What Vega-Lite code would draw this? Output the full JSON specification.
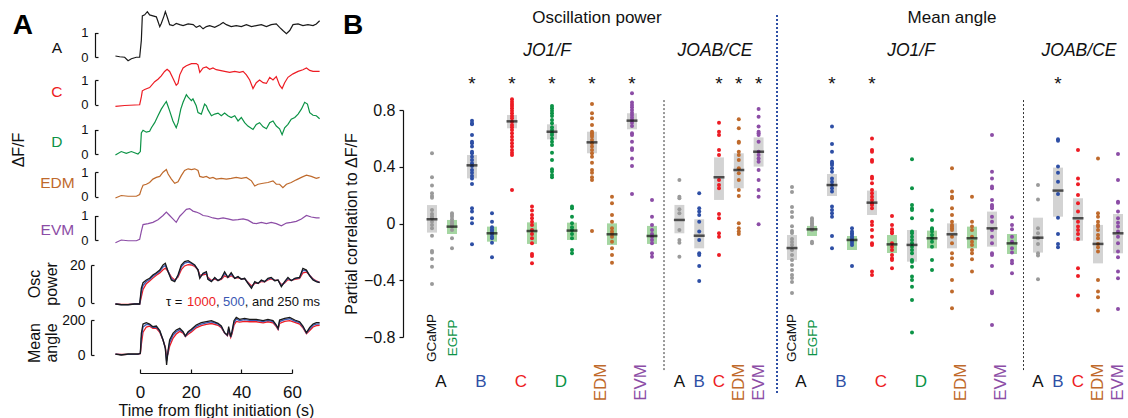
{
"$schema":"https://vega.github.io/schema/vega-lite/v6.json",
"width":1128,"height":418,"padding":0,"autosize":{"type":"none"},"background":"white",
"config":{"view":{"stroke":null},"font":"Liberation Sans","axis":{"grid":false,"labelFont":"Liberation Sans","titleFont":"Liberation Sans","domainColor":"#111","tickColor":"#111","labelColor":"#111","titleColor":"#111","titleFontWeight":"normal"}},
"datasets":{
"tr":[
{"s":"A","t":-9.7,"v":0.04},{"s":"A","t":-8,"v":0.01},{"s":"A","t":-6.05,"v":-0.01},{"s":"A","t":-4.7,"v":-0.15},{"s":"A","t":-3.4,"v":-0.07},{"s":"A","t":-1.45,"v":-0.01},{"s":"A","t":-0.13,"v":-0.01},{"s":"A","t":0.53,"v":0.68},{"s":"A","t":0.92,"v":1.68},{"s":"A","t":1.84,"v":1.72},{"s":"A","t":2.9,"v":1.85},{"s":"A","t":3.8,"v":1.72},{"s":"A","t":5.1,"v":1.68},{"s":"A","t":6.45,"v":1.64},{"s":"A","t":7.1,"v":1.45},{"s":"A","t":7.8,"v":1.24},{"s":"A","t":8.4,"v":1.37},{"s":"A","t":9.5,"v":1.68},{"s":"A","t":10,"v":1.85},{"s":"A","t":10.8,"v":1.61},{"s":"A","t":11.7,"v":1.32},{"s":"A","t":13,"v":1.28},{"s":"A","t":14.3,"v":1.37},{"s":"A","t":15.7,"v":1.32},{"s":"A","t":17,"v":1.28},{"s":"A","t":19,"v":1.35},{"s":"A","t":21,"v":1.32},{"s":"A","t":22.2,"v":1.21},{"s":"A","t":23.6,"v":1.28},{"s":"A","t":24.9,"v":1.15},{"s":"A","t":26.2,"v":1.24},{"s":"A","t":27.5,"v":1.28},{"s":"A","t":29.5,"v":1.21},{"s":"A","t":31.5,"v":1.32},{"s":"A","t":32.8,"v":1.41},{"s":"A","t":34.1,"v":1.32},{"s":"A","t":36,"v":1.24},{"s":"A","t":38,"v":1.28},{"s":"A","t":40,"v":1.24},{"s":"A","t":42,"v":1.32},{"s":"A","t":44,"v":1.24},{"s":"A","t":45.9,"v":1.28},{"s":"A","t":47.9,"v":1.32},{"s":"A","t":49.9,"v":1.24},{"s":"A","t":51.8,"v":1.32},{"s":"A","t":53.8,"v":1.35},{"s":"A","t":55.1,"v":1.21},{"s":"A","t":56.4,"v":1.08},{"s":"A","t":57.8,"v":0.95},{"s":"A","t":59.1,"v":1.08},{"s":"A","t":60.4,"v":1.32},{"s":"A","t":62.4,"v":1.35},{"s":"A","t":64.3,"v":1.28},{"s":"A","t":66.3,"v":1.32},{"s":"A","t":68.3,"v":1.28},{"s":"A","t":69.6,"v":1.35},{"s":"A","t":70.9,"v":1.48},
{"s":"C","t":-9.7,"v":-0.08},{"s":"C","t":-6.05,"v":-0.04},{"s":"C","t":-0.13,"v":-0.01},{"s":"C","t":0.53,"v":0.31},{"s":"C","t":0.92,"v":0.56},{"s":"C","t":1.84,"v":0.61},{"s":"C","t":3.8,"v":0.69},{"s":"C","t":5.8,"v":0.93},{"s":"C","t":7.1,"v":1.03},{"s":"C","t":8.4,"v":1.17},{"s":"C","t":9.7,"v":1.35},{"s":"C","t":10.7,"v":1.44},{"s":"C","t":11.7,"v":1.35},{"s":"C","t":13,"v":1.07},{"s":"C","t":14.3,"v":0.79},{"s":"C","t":15,"v":0.86},{"s":"C","t":15.7,"v":1.21},{"s":"C","t":17,"v":1.49},{"s":"C","t":18.3,"v":1.58},{"s":"C","t":20.3,"v":1.67},{"s":"C","t":22.2,"v":1.67},{"s":"C","t":22.9,"v":1.62},{"s":"C","t":23.6,"v":1.31},{"s":"C","t":24.9,"v":1.49},{"s":"C","t":26.2,"v":1.53},{"s":"C","t":27.5,"v":1.44},{"s":"C","t":28.8,"v":1.49},{"s":"C","t":30.1,"v":1.42},{"s":"C","t":31.5,"v":1.39},{"s":"C","t":33.4,"v":1.35},{"s":"C","t":35.4,"v":1.31},{"s":"C","t":37.4,"v":1.35},{"s":"C","t":39.3,"v":1.31},{"s":"C","t":40.7,"v":1.35},{"s":"C","t":42,"v":1.21},{"s":"C","t":43.3,"v":1},{"s":"C","t":44.6,"v":0.65},{"s":"C","t":45.9,"v":0.89},{"s":"C","t":47.2,"v":1},{"s":"C","t":48.6,"v":0.89},{"s":"C","t":49.9,"v":0.86},{"s":"C","t":51.2,"v":1.11},{"s":"C","t":52.5,"v":1},{"s":"C","t":53.8,"v":1.14},{"s":"C","t":55.1,"v":0.79},{"s":"C","t":56.1,"v":0.65},{"s":"C","t":57.1,"v":0.89},{"s":"C","t":58.4,"v":1.11},{"s":"C","t":60.4,"v":1.25},{"s":"C","t":62.4,"v":1.35},{"s":"C","t":64.3,"v":1.42},{"s":"C","t":65.7,"v":1.49},{"s":"C","t":67,"v":1.39},{"s":"C","t":68.3,"v":1.35},{"s":"C","t":69.6,"v":1.35},{"s":"C","t":70.9,"v":1.35},
{"s":"D","t":-9.7,"v":-0.04},{"s":"D","t":-7.4,"v":0.1},{"s":"D","t":-5.4,"v":0.03},{"s":"D","t":-3.4,"v":0.1},{"s":"D","t":-0.8,"v":0},{"s":"D","t":0.13,"v":0.1},{"s":"D","t":0.53,"v":0.86},{"s":"D","t":1.2,"v":0.97},{"s":"D","t":2.5,"v":0.89},{"s":"D","t":3.8,"v":0.93},{"s":"D","t":4.5,"v":1.07},{"s":"D","t":5.8,"v":1.28},{"s":"D","t":7.1,"v":1.56},{"s":"D","t":8.4,"v":1.83},{"s":"D","t":9.7,"v":2.04},{"s":"D","t":10.4,"v":2.14},{"s":"D","t":11.1,"v":1.94},{"s":"D","t":11.7,"v":1.76},{"s":"D","t":13,"v":1.35},{"s":"D","t":14.3,"v":1.07},{"s":"D","t":15,"v":1.28},{"s":"D","t":16.1,"v":1.83},{"s":"D","t":17,"v":2.11},{"s":"D","t":18.3,"v":2.42},{"s":"D","t":19,"v":2.32},{"s":"D","t":20.3,"v":2.18},{"s":"D","t":20.9,"v":2.25},{"s":"D","t":22.2,"v":1.97},{"s":"D","t":22.9,"v":1.69},{"s":"D","t":24.2,"v":1.63},{"s":"D","t":25.5,"v":2.04},{"s":"D","t":26.2,"v":1.97},{"s":"D","t":26.8,"v":1.81},{"s":"D","t":28.2,"v":1.56},{"s":"D","t":29.5,"v":1.63},{"s":"D","t":30.8,"v":1.67},{"s":"D","t":32.1,"v":1.56},{"s":"D","t":33.4,"v":1.67},{"s":"D","t":34.7,"v":1.56},{"s":"D","t":36,"v":1.49},{"s":"D","t":37.4,"v":1.56},{"s":"D","t":38.7,"v":1.35},{"s":"D","t":40,"v":1.49},{"s":"D","t":41.3,"v":1.28},{"s":"D","t":42.6,"v":1.14},{"s":"D","t":44.6,"v":1},{"s":"D","t":45.9,"v":1.21},{"s":"D","t":47.2,"v":1.28},{"s":"D","t":48.6,"v":1.11},{"s":"D","t":49.9,"v":1.03},{"s":"D","t":51.2,"v":1.28},{"s":"D","t":52.5,"v":1.35},{"s":"D","t":53.8,"v":1.14},{"s":"D","t":55.1,"v":1.03},{"s":"D","t":56.1,"v":0.79},{"s":"D","t":57.1,"v":1.07},{"s":"D","t":58.4,"v":1.21},{"s":"D","t":59.7,"v":1.42},{"s":"D","t":61.1,"v":1.49},{"s":"D","t":62.4,"v":1.63},{"s":"D","t":63.7,"v":1.83},{"s":"D","t":65,"v":2.11},{"s":"D","t":66.1,"v":2.04},{"s":"D","t":67,"v":1.69},{"s":"D","t":68.3,"v":1.58},{"s":"D","t":69.6,"v":1.56},{"s":"D","t":70.9,"v":1.44},
{"s":"EDM","t":-9.7,"v":-0.06},{"s":"EDM","t":-7.4,"v":0.04},{"s":"EDM","t":-4.7,"v":0.01},{"s":"EDM","t":-1.45,"v":0.01},{"s":"EDM","t":-0.13,"v":0.08},{"s":"EDM","t":0.53,"v":0.29},{"s":"EDM","t":1.2,"v":0.46},{"s":"EDM","t":2.5,"v":0.5},{"s":"EDM","t":3.8,"v":0.57},{"s":"EDM","t":5.1,"v":0.71},{"s":"EDM","t":6.45,"v":0.78},{"s":"EDM","t":7.8,"v":0.82},{"s":"EDM","t":9.1,"v":0.99},{"s":"EDM","t":10.4,"v":1.1},{"s":"EDM","t":11.1,"v":0.92},{"s":"EDM","t":12.4,"v":0.71},{"s":"EDM","t":13.7,"v":0.54},{"s":"EDM","t":15,"v":0.6},{"s":"EDM","t":16.3,"v":0.85},{"s":"EDM","t":17.6,"v":1.06},{"s":"EDM","t":19,"v":1.13},{"s":"EDM","t":20.3,"v":1.1},{"s":"EDM","t":21.6,"v":1.13},{"s":"EDM","t":22.9,"v":1.06},{"s":"EDM","t":23.6,"v":0.82},{"s":"EDM","t":24.9,"v":0.78},{"s":"EDM","t":26.2,"v":0.82},{"s":"EDM","t":27.5,"v":0.74},{"s":"EDM","t":28.8,"v":0.78},{"s":"EDM","t":30.1,"v":0.71},{"s":"EDM","t":32.1,"v":0.74},{"s":"EDM","t":34.1,"v":0.71},{"s":"EDM","t":36,"v":0.74},{"s":"EDM","t":38,"v":0.78},{"s":"EDM","t":40,"v":0.74},{"s":"EDM","t":42,"v":0.78},{"s":"EDM","t":44,"v":0.64},{"s":"EDM","t":45.3,"v":0.43},{"s":"EDM","t":46.6,"v":0.5},{"s":"EDM","t":48.6,"v":0.54},{"s":"EDM","t":50.5,"v":0.57},{"s":"EDM","t":52.5,"v":0.64},{"s":"EDM","t":53.8,"v":0.5},{"s":"EDM","t":55.1,"v":0.5},{"s":"EDM","t":56.4,"v":0.36},{"s":"EDM","t":57.8,"v":0.5},{"s":"EDM","t":59.7,"v":0.57},{"s":"EDM","t":61.7,"v":0.68},{"s":"EDM","t":63.7,"v":0.78},{"s":"EDM","t":65.7,"v":0.87},{"s":"EDM","t":67.6,"v":0.82},{"s":"EDM","t":69.6,"v":0.74},{"s":"EDM","t":70.9,"v":0.78},
{"s":"EVM","t":-9.7,"v":-0.11},{"s":"EVM","t":-7.4,"v":0},{"s":"EVM","t":-4.7,"v":-0.03},{"s":"EVM","t":-1.45,"v":-0.03},{"s":"EVM","t":-0.13,"v":0.03},{"s":"EVM","t":0.53,"v":0.35},{"s":"EVM","t":1.2,"v":0.63},{"s":"EVM","t":3.2,"v":0.67},{"s":"EVM","t":5.1,"v":0.72},{"s":"EVM","t":7.1,"v":0.83},{"s":"EVM","t":9.1,"v":1},{"s":"EVM","t":10.4,"v":1.14},{"s":"EVM","t":11.7,"v":1},{"s":"EVM","t":13,"v":0.86},{"s":"EVM","t":14.3,"v":0.72},{"s":"EVM","t":15.7,"v":0.97},{"s":"EVM","t":17,"v":1.11},{"s":"EVM","t":18.3,"v":1.25},{"s":"EVM","t":19.6,"v":1.28},{"s":"EVM","t":20.9,"v":1.18},{"s":"EVM","t":22.2,"v":1.14},{"s":"EVM","t":23.6,"v":1.08},{"s":"EVM","t":24.9,"v":1},{"s":"EVM","t":26.8,"v":0.97},{"s":"EVM","t":28.8,"v":0.9},{"s":"EVM","t":30.8,"v":0.86},{"s":"EVM","t":32.8,"v":0.9},{"s":"EVM","t":34.7,"v":0.86},{"s":"EVM","t":36.7,"v":0.81},{"s":"EVM","t":38.7,"v":0.83},{"s":"EVM","t":40.7,"v":0.86},{"s":"EVM","t":42.6,"v":0.81},{"s":"EVM","t":44.6,"v":0.69},{"s":"EVM","t":45.9,"v":0.67},{"s":"EVM","t":47.9,"v":0.72},{"s":"EVM","t":49.9,"v":0.67},{"s":"EVM","t":51.8,"v":0.72},{"s":"EVM","t":53.8,"v":0.67},{"s":"EVM","t":55.8,"v":0.58},{"s":"EVM","t":57.8,"v":0.69},{"s":"EVM","t":59.7,"v":0.72},{"s":"EVM","t":61.7,"v":0.76},{"s":"EVM","t":63.7,"v":0.86},{"s":"EVM","t":65.7,"v":1},{"s":"EVM","t":67.6,"v":0.94},{"s":"EVM","t":69.6,"v":0.9},{"s":"EVM","t":70.9,"v":0.9},
{"s":"o1","t":-9.7,"v":-0.8},{"s":"o1","t":-7.4,"v":-1},{"s":"o1","t":-4.7,"v":-1},{"s":"o1","t":-2.1,"v":-0.8},{"s":"o1","t":-0.13,"v":-0.8},{"s":"o1","t":0.53,"v":3},{"s":"o1","t":1.2,"v":7},{"s":"o1","t":2.5,"v":10},{"s":"o1","t":3.8,"v":11.5},{"s":"o1","t":5.1,"v":13},{"s":"o1","t":6.45,"v":14.5},{"s":"o1","t":7.8,"v":15.8},{"s":"o1","t":9.1,"v":17.5},{"s":"o1","t":10,"v":18.3},{"s":"o1","t":11.1,"v":16.5},{"s":"o1","t":12.4,"v":13.5},{"s":"o1","t":13.7,"v":12},{"s":"o1","t":15,"v":13.5},{"s":"o1","t":16.3,"v":17.5},{"s":"o1","t":17.6,"v":19.5},{"s":"o1","t":19,"v":20.2},{"s":"o1","t":20.3,"v":20},{"s":"o1","t":21.6,"v":19.2},{"s":"o1","t":22.9,"v":17.5},{"s":"o1","t":23.6,"v":14.5},{"s":"o1","t":24.9,"v":14.8},{"s":"o1","t":26.2,"v":15.2},{"s":"o1","t":26.8,"v":13.5},{"s":"o1","t":28.2,"v":11.8},{"s":"o1","t":29.5,"v":12.5},{"s":"o1","t":30.8,"v":11.8},{"s":"o1","t":32.1,"v":12.3},{"s":"o1","t":33.4,"v":14.2},{"s":"o1","t":34.7,"v":13.3},{"s":"o1","t":36,"v":14.3},{"s":"o1","t":37.4,"v":13},{"s":"o1","t":38.7,"v":13.3},{"s":"o1","t":40,"v":12.6},{"s":"o1","t":41.3,"v":12.6},{"s":"o1","t":42.6,"v":10.8},{"s":"o1","t":44,"v":8.8},{"s":"o1","t":45.3,"v":10.2},{"s":"o1","t":46.6,"v":10.2},{"s":"o1","t":47.9,"v":11.2},{"s":"o1","t":49.2,"v":11},{"s":"o1","t":50.5,"v":12},{"s":"o1","t":51.8,"v":12.6},{"s":"o1","t":53.2,"v":11.8},{"s":"o1","t":54.5,"v":11.8},{"s":"o1","t":55.8,"v":9.5},{"s":"o1","t":57.1,"v":10.4},{"s":"o1","t":58.4,"v":12.2},{"s":"o1","t":59.7,"v":11.8},{"s":"o1","t":61.1,"v":12.3},{"s":"o1","t":63,"v":12.8},{"s":"o1","t":64.3,"v":15.8},{"s":"o1","t":65.7,"v":16.2},{"s":"o1","t":67,"v":14.5},{"s":"o1","t":68.3,"v":12.6},{"s":"o1","t":69.6,"v":11.5},{"s":"o1","t":70.9,"v":10.8},
{"s":"o5","t":-9.7,"v":-0.8},{"s":"o5","t":-7.4,"v":-1.1},{"s":"o5","t":-4.7,"v":-1.1},{"s":"o5","t":-2.1,"v":-0.8},{"s":"o5","t":-0.13,"v":-0.8},{"s":"o5","t":0.53,"v":5.5},{"s":"o5","t":1.2,"v":9},{"s":"o5","t":2.5,"v":11.2},{"s":"o5","t":3.8,"v":12.3},{"s":"o5","t":5.1,"v":14},{"s":"o5","t":6.45,"v":15.3},{"s":"o5","t":7.8,"v":16.7},{"s":"o5","t":9.1,"v":19},{"s":"o5","t":10,"v":19.8},{"s":"o5","t":11.1,"v":16.6},{"s":"o5","t":12.4,"v":12.6},{"s":"o5","t":13.7,"v":11.5},{"s":"o5","t":15,"v":14.2},{"s":"o5","t":16.3,"v":19},{"s":"o5","t":17.6,"v":21},{"s":"o5","t":19,"v":21.5},{"s":"o5","t":20.3,"v":20.8},{"s":"o5","t":21.6,"v":19.7},{"s":"o5","t":22.9,"v":17.5},{"s":"o5","t":23.6,"v":13.6},{"s":"o5","t":24.9,"v":15.3},{"s":"o5","t":26.2,"v":15.9},{"s":"o5","t":26.8,"v":12.9},{"s":"o5","t":28.2,"v":11.4},{"s":"o5","t":29.5,"v":13},{"s":"o5","t":30.8,"v":11.7},{"s":"o5","t":32.1,"v":12.7},{"s":"o5","t":33.4,"v":15.5},{"s":"o5","t":34.7,"v":13.4},{"s":"o5","t":36,"v":15.2},{"s":"o5","t":37.4,"v":13},{"s":"o5","t":38.7,"v":13.6},{"s":"o5","t":40,"v":12.5},{"s":"o5","t":41.3,"v":12.8},{"s":"o5","t":42.6,"v":10.5},{"s":"o5","t":44,"v":8.1},{"s":"o5","t":45.3,"v":10.7},{"s":"o5","t":46.6,"v":10.2},{"s":"o5","t":47.9,"v":11.7},{"s":"o5","t":49.2,"v":11.1},{"s":"o5","t":50.5,"v":12.5},{"s":"o5","t":51.8,"v":13.1},{"s":"o5","t":53.2,"v":11.7},{"s":"o5","t":54.5,"v":11.9},{"s":"o5","t":55.8,"v":8.9},{"s":"o5","t":57.1,"v":10.8},{"s":"o5","t":58.4,"v":12.9},{"s":"o5","t":59.7,"v":11.7},{"s":"o5","t":61.1,"v":12.7},{"s":"o5","t":63,"v":13.2},{"s":"o5","t":64.3,"v":17.2},{"s":"o5","t":65.7,"v":16.9},{"s":"o5","t":67,"v":14.4},{"s":"o5","t":68.3,"v":12.3},{"s":"o5","t":69.6,"v":11.3},{"s":"o5","t":70.9,"v":10.7},
{"s":"o2","t":-9.7,"v":-0.8},{"s":"o2","t":-7.4,"v":-1.2},{"s":"o2","t":-4.7,"v":-1.2},{"s":"o2","t":-2.1,"v":-0.8},{"s":"o2","t":-0.13,"v":-0.8},{"s":"o2","t":0.53,"v":7.6},{"s":"o2","t":1.2,"v":10.6},{"s":"o2","t":2.5,"v":12},{"s":"o2","t":3.8,"v":12.9},{"s":"o2","t":5.1,"v":14.7},{"s":"o2","t":6.45,"v":15.9},{"s":"o2","t":7.8,"v":17.3},{"s":"o2","t":9.1,"v":20},{"s":"o2","t":10,"v":20.9},{"s":"o2","t":11.1,"v":16.4},{"s":"o2","t":12.4,"v":12},{"s":"o2","t":13.7,"v":11.1},{"s":"o2","t":15,"v":14.7},{"s":"o2","t":16.3,"v":20},{"s":"o2","t":17.6,"v":21.8},{"s":"o2","t":19,"v":22.3},{"s":"o2","t":20.3,"v":21.2},{"s":"o2","t":21.6,"v":20},{"s":"o2","t":22.9,"v":17.3},{"s":"o2","t":23.6,"v":12.9},{"s":"o2","t":24.9,"v":15.6},{"s":"o2","t":26.2,"v":16.4},{"s":"o2","t":26.8,"v":12.4},{"s":"o2","t":28.2,"v":11.1},{"s":"o2","t":29.5,"v":13.4},{"s":"o2","t":30.8,"v":11.6},{"s":"o2","t":32.1,"v":12.9},{"s":"o2","t":33.4,"v":16.4},{"s":"o2","t":34.7,"v":13.4},{"s":"o2","t":36,"v":15.9},{"s":"o2","t":37.4,"v":12.9},{"s":"o2","t":38.7,"v":13.8},{"s":"o2","t":40,"v":12.4},{"s":"o2","t":41.3,"v":12.9},{"s":"o2","t":42.6,"v":10.2},{"s":"o2","t":44,"v":7.6},{"s":"o2","t":45.3,"v":11.1},{"s":"o2","t":46.6,"v":10.2},{"s":"o2","t":47.9,"v":12},{"s":"o2","t":49.2,"v":11.1},{"s":"o2","t":50.5,"v":12.9},{"s":"o2","t":51.8,"v":13.4},{"s":"o2","t":53.2,"v":11.6},{"s":"o2","t":54.5,"v":12},{"s":"o2","t":55.8,"v":8.4},{"s":"o2","t":57.1,"v":11.1},{"s":"o2","t":58.4,"v":13.4},{"s":"o2","t":59.7,"v":11.6},{"s":"o2","t":61.1,"v":12.9},{"s":"o2","t":63,"v":13.4},{"s":"o2","t":64.3,"v":18.2},{"s":"o2","t":65.7,"v":17.3},{"s":"o2","t":67,"v":14.2},{"s":"o2","t":68.3,"v":12},{"s":"o2","t":69.6,"v":11.1},{"s":"o2","t":70.9,"v":10.6},
{"s":"a1","t":-9.7,"v":5},{"s":"a1","t":-7.4,"v":3},{"s":"a1","t":-4.7,"v":4},{"s":"a1","t":-0.8,"v":5},{"s":"a1","t":0.13,"v":8},{"s":"a1","t":0.53,"v":60},{"s":"a1","t":1.2,"v":130},{"s":"a1","t":2.5,"v":160},{"s":"a1","t":3.8,"v":165},{"s":"a1","t":5.1,"v":152},{"s":"a1","t":6.45,"v":152},{"s":"a1","t":7.8,"v":130},{"s":"a1","t":9.1,"v":85},{"s":"a1","t":10,"v":45},{"s":"a1","t":10.5,"v":-10},{"s":"a1","t":11.1,"v":10},{"s":"a1","t":11.7,"v":50},{"s":"a1","t":13,"v":95},{"s":"a1","t":14.3,"v":120},{"s":"a1","t":15.7,"v":135},{"s":"a1","t":17,"v":125},{"s":"a1","t":17.9,"v":105},{"s":"a1","t":19,"v":118},{"s":"a1","t":20.3,"v":132},{"s":"a1","t":22.2,"v":155},{"s":"a1","t":24.2,"v":168},{"s":"a1","t":26.2,"v":175},{"s":"a1","t":28.2,"v":180},{"s":"a1","t":30.8,"v":170},{"s":"a1","t":32.1,"v":156},{"s":"a1","t":33.4,"v":125},{"s":"a1","t":34.5,"v":110},{"s":"a1","t":35,"v":140},{"s":"a1","t":35.8,"v":100},{"s":"a1","t":36.3,"v":120},{"s":"a1","t":37.1,"v":170},{"s":"a1","t":38,"v":192},{"s":"a1","t":39.3,"v":188},{"s":"a1","t":41.3,"v":192},{"s":"a1","t":43.3,"v":190},{"s":"a1","t":45.9,"v":190},{"s":"a1","t":48.6,"v":184},{"s":"a1","t":50.5,"v":190},{"s":"a1","t":52.5,"v":184},{"s":"a1","t":53.8,"v":162},{"s":"a1","t":54.5,"v":145},{"s":"a1","t":55.1,"v":180},{"s":"a1","t":57.1,"v":192},{"s":"a1","t":59.1,"v":196},{"s":"a1","t":61.1,"v":186},{"s":"a1","t":63,"v":177},{"s":"a1","t":64.3,"v":156},{"s":"a1","t":65.7,"v":122},{"s":"a1","t":67,"v":140},{"s":"a1","t":68.3,"v":160},{"s":"a1","t":69.6,"v":168},{"s":"a1","t":70.9,"v":170},
{"s":"a5","t":-9.7,"v":5},{"s":"a5","t":-7.4,"v":2},{"s":"a5","t":-4.7,"v":4},{"s":"a5","t":-0.8,"v":5},{"s":"a5","t":0.13,"v":9},{"s":"a5","t":0.53,"v":95},{"s":"a5","t":1.2,"v":160},{"s":"a5","t":2.5,"v":175},{"s":"a5","t":3.8,"v":172},{"s":"a5","t":5.1,"v":158},{"s":"a5","t":6.45,"v":160},{"s":"a5","t":7.8,"v":136},{"s":"a5","t":9.1,"v":86},{"s":"a5","t":10,"v":40},{"s":"a5","t":10.5,"v":-35},{"s":"a5","t":11.1,"v":20},{"s":"a5","t":11.7,"v":70},{"s":"a5","t":13,"v":112},{"s":"a5","t":14.3,"v":133},{"s":"a5","t":15.7,"v":145},{"s":"a5","t":17,"v":130},{"s":"a5","t":17.9,"v":107},{"s":"a5","t":19,"v":127},{"s":"a5","t":20.3,"v":140},{"s":"a5","t":22.2,"v":164},{"s":"a5","t":24.2,"v":177},{"s":"a5","t":26.2,"v":184},{"s":"a5","t":28.2,"v":189},{"s":"a5","t":30.8,"v":176},{"s":"a5","t":32.1,"v":161},{"s":"a5","t":33.4,"v":126},{"s":"a5","t":34.5,"v":112},{"s":"a5","t":35,"v":152},{"s":"a5","t":35.8,"v":102},{"s":"a5","t":36.3,"v":128},{"s":"a5","t":37.1,"v":184},{"s":"a5","t":38,"v":205},{"s":"a5","t":39.3,"v":197},{"s":"a5","t":41.3,"v":202},{"s":"a5","t":43.3,"v":198},{"s":"a5","t":45.9,"v":198},{"s":"a5","t":48.6,"v":191},{"s":"a5","t":50.5,"v":198},{"s":"a5","t":52.5,"v":191},{"s":"a5","t":53.8,"v":167},{"s":"a5","t":54.5,"v":149},{"s":"a5","t":55.1,"v":191},{"s":"a5","t":57.1,"v":202},{"s":"a5","t":59.1,"v":207},{"s":"a5","t":61.1,"v":194},{"s":"a5","t":63,"v":185},{"s":"a5","t":64.3,"v":161},{"s":"a5","t":65.7,"v":125},{"s":"a5","t":67,"v":150},{"s":"a5","t":68.3,"v":170},{"s":"a5","t":69.6,"v":177},{"s":"a5","t":70.9,"v":178},
{"s":"a2","t":-9.7,"v":5.6},{"s":"a2","t":-7.4,"v":0},{"s":"a2","t":-4.7,"v":5.6},{"s":"a2","t":-0.8,"v":5.6},{"s":"a2","t":0.13,"v":9.4},{"s":"a2","t":0.53,"v":123.7},{"s":"a2","t":1.2,"v":177},{"s":"a2","t":2.5,"v":184.7},{"s":"a2","t":3.8,"v":177},{"s":"a2","t":5.1,"v":161.8},{"s":"a2","t":6.45,"v":165.6},{"s":"a2","t":7.8,"v":139},{"s":"a2","t":9.1,"v":85.6},{"s":"a2","t":10,"v":38},{"s":"a2","t":10.5,"v":-57.3},{"s":"a2","t":11.1,"v":28.5},{"s":"a2","t":11.7,"v":85.6},{"s":"a2","t":13,"v":123.7},{"s":"a2","t":14.3,"v":142.8},{"s":"a2","t":15.7,"v":152.3},{"s":"a2","t":17,"v":133.2},{"s":"a2","t":17.9,"v":108.5},{"s":"a2","t":19,"v":133.2},{"s":"a2","t":20.3,"v":146.6},{"s":"a2","t":22.2,"v":171.3},{"s":"a2","t":24.2,"v":184.7},{"s":"a2","t":26.2,"v":190.4},{"s":"a2","t":28.2,"v":196.1},{"s":"a2","t":30.8,"v":180.9},{"s":"a2","t":32.1,"v":165.6},{"s":"a2","t":33.4,"v":127.5},{"s":"a2","t":34.5,"v":114.2},{"s":"a2","t":35,"v":161.8},{"s":"a2","t":35.8,"v":104.7},{"s":"a2","t":36.3,"v":133.2},{"s":"a2","t":37.1,"v":196.1},{"s":"a2","t":38,"v":215.1},{"s":"a2","t":39.3,"v":203.7},{"s":"a2","t":41.3,"v":209.4},{"s":"a2","t":43.3,"v":203.7},{"s":"a2","t":45.9,"v":203.7},{"s":"a2","t":48.6,"v":196.1},{"s":"a2","t":50.5,"v":203.7},{"s":"a2","t":52.5,"v":196.1},{"s":"a2","t":53.8,"v":171.3},{"s":"a2","t":54.5,"v":152.3},{"s":"a2","t":55.1,"v":199.9},{"s":"a2","t":57.1,"v":209.4},{"s":"a2","t":59.1,"v":215.1},{"s":"a2","t":61.1,"v":199.9},{"s":"a2","t":63,"v":190.4},{"s":"a2","t":64.3,"v":165.6},{"s":"a2","t":65.7,"v":127.5},{"s":"a2","t":67,"v":158},{"s":"a2","t":68.3,"v":177},{"s":"a2","t":69.6,"v":184.7},{"s":"a2","t":70.9,"v":184.7}
],
"summ":[
{"p":1,"c":"A-G","n":"A","g":"G","m":0.03,"lo":-0.064,"hi":0.13,"sig":false},
{"p":1,"c":"A-E","n":"A","g":"E","m":-0.022,"lo":-0.074,"hi":0.025,"sig":false},
{"p":1,"c":"B-G","n":"B","g":"G","m":0.41,"lo":0.318,"hi":0.483,"sig":true},
{"p":1,"c":"B-E","n":"B","g":"E","m":-0.069,"lo":-0.128,"hi":-0.022,"sig":false},
{"p":1,"c":"C-G","n":"C","g":"G","m":0.72,"lo":0.671,"hi":0.765,"sig":true},
{"p":1,"c":"C-E","n":"C","g":"E","m":-0.053,"lo":-0.144,"hi":0.008,"sig":false},
{"p":1,"c":"D-G","n":"D","g":"G","m":0.647,"lo":0.593,"hi":0.699,"sig":true},
{"p":1,"c":"D-E","n":"D","g":"E","m":-0.05,"lo":-0.116,"hi":0.006,"sig":false},
{"p":1,"c":"EDM-G","n":"EDM","g":"G","m":0.572,"lo":0.495,"hi":0.647,"sig":true},
{"p":1,"c":"EDM-E","n":"EDM","g":"E","m":-0.076,"lo":-0.151,"hi":0.001,"sig":false},
{"p":1,"c":"EVM-G","n":"EVM","g":"G","m":0.725,"lo":0.664,"hi":0.777,"sig":true},
{"p":1,"c":"EVM-E","n":"EVM","g":"E","m":-0.088,"lo":-0.144,"hi":-0.017,"sig":false},
{"p":2,"c":"A","n":"A","g":"G","m":0.025,"lo":-0.069,"hi":0.131,"sig":false},
{"p":2,"c":"B","n":"B","g":"G","m":-0.086,"lo":-0.175,"hi":0.03,"sig":false},
{"p":2,"c":"C","n":"C","g":"G","m":0.326,"lo":0.166,"hi":0.466,"sig":true},
{"p":2,"c":"EDM","n":"EDM","g":"G","m":0.377,"lo":0.248,"hi":0.495,"sig":true},
{"p":2,"c":"EVM","n":"EVM","g":"G","m":0.506,"lo":0.401,"hi":0.607,"sig":true},
{"p":3,"c":"A-G","n":"A","g":"G","m":-0.173,"lo":-0.257,"hi":-0.081,"sig":false},
{"p":3,"c":"A-E","n":"A","g":"E","m":-0.041,"lo":-0.088,"hi":-0.017,"sig":false},
{"p":3,"c":"B-G","n":"B","g":"G","m":0.271,"lo":0.194,"hi":0.349,"sig":true},
{"p":3,"c":"B-E","n":"B","g":"E","m":-0.116,"lo":-0.187,"hi":-0.088,"sig":false},
{"p":3,"c":"C-G","n":"C","g":"G","m":0.147,"lo":0.06,"hi":0.232,"sig":true},
{"p":3,"c":"C-E","n":"C","g":"E","m":-0.147,"lo":-0.208,"hi":-0.081,"sig":false},
{"p":3,"c":"D-G","n":"D","g":"G","m":-0.151,"lo":-0.269,"hi":-0.046,"sig":false},
{"p":3,"c":"D-E","n":"D","g":"E","m":-0.104,"lo":-0.175,"hi":-0.05,"sig":false},
{"p":3,"c":"EDM-G","n":"EDM","g":"G","m":-0.076,"lo":-0.175,"hi":0.001,"sig":false},
{"p":3,"c":"EDM-E","n":"EDM","g":"E","m":-0.104,"lo":-0.175,"hi":-0.022,"sig":false},
{"p":3,"c":"EVM-G","n":"EVM","g":"G","m":-0.034,"lo":-0.163,"hi":0.084,"sig":false},
{"p":3,"c":"EVM-E","n":"EVM","g":"E","m":-0.14,"lo":-0.215,"hi":-0.074,"sig":false},
{"p":4,"c":"A","n":"A","g":"G","m":-0.1,"lo":-0.205,"hi":0.041,"sig":false},
{"p":4,"c":"B","n":"B","g":"G","m":0.232,"lo":0.048,"hi":0.394,"sig":true},
{"p":4,"c":"C","n":"C","g":"G","m":0.037,"lo":-0.121,"hi":0.178,"sig":false},
{"p":4,"c":"EDM","n":"EDM","g":"G","m":-0.144,"lo":-0.281,"hi":-0.01,"sig":false},
{"p":4,"c":"EVM","n":"EVM","g":"G","m":-0.069,"lo":-0.21,"hi":0.067,"sig":false}
],
"dots":[
{"p":1,"c":"A-G","n":"A","v":0.495},{"p":1,"c":"A-G","n":"A","v":0.326},{"p":1,"c":"A-G","n":"A","v":0.267},{"p":1,"c":"A-G","n":"A","v":0.213},{"p":1,"c":"A-G","n":"A","v":0.194},{"p":1,"c":"A-G","n":"A","v":0.182},{"p":1,"c":"A-G","n":"A","v":0.095},{"p":1,"c":"A-G","n":"A","v":0.067},{"p":1,"c":"A-G","n":"A","v":0.05},{"p":1,"c":"A-G","n":"A","v":0.037},{"p":1,"c":"A-G","n":"A","v":0.013},{"p":1,"c":"A-G","n":"A","v":-0.01},{"p":1,"c":"A-G","n":"A","v":-0.034},{"p":1,"c":"A-G","n":"A","v":-0.086},{"p":1,"c":"A-G","n":"A","v":-0.194},{"p":1,"c":"A-G","n":"A","v":-0.205},{"p":1,"c":"A-G","n":"A","v":-0.25},{"p":1,"c":"A-G","n":"A","v":-0.304},{"p":1,"c":"A-G","n":"A","v":-0.426},
{"p":1,"c":"A-E","n":"A","v":0.072},{"p":1,"c":"A-E","n":"A","v":0.06},{"p":1,"c":"A-E","n":"A","v":0.048},{"p":1,"c":"A-E","n":"A","v":0.03},{"p":1,"c":"A-E","n":"A","v":0.013},{"p":1,"c":"A-E","n":"A","v":0.001},{"p":1,"c":"A-E","n":"A","v":-0.01},{"p":1,"c":"A-E","n":"A","v":-0.022},{"p":1,"c":"A-E","n":"A","v":-0.046},{"p":1,"c":"A-E","n":"A","v":-0.104},{"p":1,"c":"A-E","n":"A","v":-0.175},
{"p":1,"c":"B-G","n":"B","v":0.725},{"p":1,"c":"B-G","n":"B","v":0.706},{"p":1,"c":"B-G","n":"B","v":0.699},{"p":1,"c":"B-G","n":"B","v":0.624},{"p":1,"c":"B-G","n":"B","v":0.577},{"p":1,"c":"B-G","n":"B","v":0.565},{"p":1,"c":"B-G","n":"B","v":0.542},{"p":1,"c":"B-G","n":"B","v":0.506},{"p":1,"c":"B-G","n":"B","v":0.495},{"p":1,"c":"B-G","n":"B","v":0.471},{"p":1,"c":"B-G","n":"B","v":0.448},{"p":1,"c":"B-G","n":"B","v":0.424},{"p":1,"c":"B-G","n":"B","v":0.405},{"p":1,"c":"B-G","n":"B","v":0.377},{"p":1,"c":"B-G","n":"B","v":0.358},{"p":1,"c":"B-G","n":"B","v":0.335},{"p":1,"c":"B-G","n":"B","v":0.318},{"p":1,"c":"B-G","n":"B","v":0.279},{"p":1,"c":"B-G","n":"B","v":0.107},{"p":1,"c":"B-G","n":"B","v":0.084},{"p":1,"c":"B-G","n":"B","v":0.037},{"p":1,"c":"B-G","n":"B","v":0.001},{"p":1,"c":"B-G","n":"B","v":-0.147},
{"p":1,"c":"B-E","n":"B","v":0.072},{"p":1,"c":"B-E","n":"B","v":0.013},{"p":1,"c":"B-E","n":"B","v":-0.027},{"p":1,"c":"B-E","n":"B","v":-0.041},{"p":1,"c":"B-E","n":"B","v":-0.05},{"p":1,"c":"B-E","n":"B","v":-0.064},{"p":1,"c":"B-E","n":"B","v":-0.074},{"p":1,"c":"B-E","n":"B","v":-0.093},{"p":1,"c":"B-E","n":"B","v":-0.104},{"p":1,"c":"B-E","n":"B","v":-0.135},{"p":1,"c":"B-E","n":"B","v":-0.238},
{"p":1,"c":"C-G","n":"C","v":0.875},{"p":1,"c":"C-G","n":"C","v":0.859},{"p":1,"c":"C-G","n":"C","v":0.842},{"p":1,"c":"C-G","n":"C","v":0.828},{"p":1,"c":"C-G","n":"C","v":0.812},{"p":1,"c":"C-G","n":"C","v":0.795},{"p":1,"c":"C-G","n":"C","v":0.777},{"p":1,"c":"C-G","n":"C","v":0.758},{"p":1,"c":"C-G","n":"C","v":0.741},{"p":1,"c":"C-G","n":"C","v":0.718},{"p":1,"c":"C-G","n":"C","v":0.694},{"p":1,"c":"C-G","n":"C","v":0.678},{"p":1,"c":"C-G","n":"C","v":0.659},{"p":1,"c":"C-G","n":"C","v":0.636},{"p":1,"c":"C-G","n":"C","v":0.612},{"p":1,"c":"C-G","n":"C","v":0.589},{"p":1,"c":"C-G","n":"C","v":0.565},{"p":1,"c":"C-G","n":"C","v":0.542},{"p":1,"c":"C-G","n":"C","v":0.518},{"p":1,"c":"C-G","n":"C","v":0.499},{"p":1,"c":"C-G","n":"C","v":0.483},{"p":1,"c":"C-G","n":"C","v":0.236},
{"p":1,"c":"C-E","n":"C","v":0.119},{"p":1,"c":"C-E","n":"C","v":0.091},{"p":1,"c":"C-E","n":"C","v":0.06},{"p":1,"c":"C-E","n":"C","v":0.037},{"p":1,"c":"C-E","n":"C","v":0.013},{"p":1,"c":"C-E","n":"C","v":-0.01},{"p":1,"c":"C-E","n":"C","v":-0.046},{"p":1,"c":"C-E","n":"C","v":-0.074},{"p":1,"c":"C-E","n":"C","v":-0.104},{"p":1,"c":"C-E","n":"C","v":-0.14},{"p":1,"c":"C-E","n":"C","v":-0.215},{"p":1,"c":"C-E","n":"C","v":-0.229},{"p":1,"c":"C-E","n":"C","v":-0.281},
{"p":1,"c":"D-G","n":"D","v":0.828},{"p":1,"c":"D-G","n":"D","v":0.812},{"p":1,"c":"D-G","n":"D","v":0.795},{"p":1,"c":"D-G","n":"D","v":0.777},{"p":1,"c":"D-G","n":"D","v":0.758},{"p":1,"c":"D-G","n":"D","v":0.73},{"p":1,"c":"D-G","n":"D","v":0.706},{"p":1,"c":"D-G","n":"D","v":0.678},{"p":1,"c":"D-G","n":"D","v":0.659},{"p":1,"c":"D-G","n":"D","v":0.64},{"p":1,"c":"D-G","n":"D","v":0.624},{"p":1,"c":"D-G","n":"D","v":0.6},{"p":1,"c":"D-G","n":"D","v":0.577},{"p":1,"c":"D-G","n":"D","v":0.553},{"p":1,"c":"D-G","n":"D","v":0.499},{"p":1,"c":"D-G","n":"D","v":0.448},{"p":1,"c":"D-G","n":"D","v":0.382},{"p":1,"c":"D-G","n":"D","v":0.366},{"p":1,"c":"D-G","n":"D","v":0.342},{"p":1,"c":"D-G","n":"D","v":0.326},
{"p":1,"c":"D-E","n":"D","v":0.119},{"p":1,"c":"D-E","n":"D","v":0.107},{"p":1,"c":"D-E","n":"D","v":0.048},{"p":1,"c":"D-E","n":"D","v":0.001},{"p":1,"c":"D-E","n":"D","v":-0.027},{"p":1,"c":"D-E","n":"D","v":-0.046},{"p":1,"c":"D-E","n":"D","v":-0.074},{"p":1,"c":"D-E","n":"D","v":-0.104},{"p":1,"c":"D-E","n":"D","v":-0.187},{"p":1,"c":"D-E","n":"D","v":-0.21},
{"p":1,"c":"EDM-G","n":"EDM","v":0.842},{"p":1,"c":"EDM-G","n":"EDM","v":0.777},{"p":1,"c":"EDM-G","n":"EDM","v":0.741},{"p":1,"c":"EDM-G","n":"EDM","v":0.694},{"p":1,"c":"EDM-G","n":"EDM","v":0.647},{"p":1,"c":"EDM-G","n":"EDM","v":0.636},{"p":1,"c":"EDM-G","n":"EDM","v":0.624},{"p":1,"c":"EDM-G","n":"EDM","v":0.612},{"p":1,"c":"EDM-G","n":"EDM","v":0.589},{"p":1,"c":"EDM-G","n":"EDM","v":0.565},{"p":1,"c":"EDM-G","n":"EDM","v":0.542},{"p":1,"c":"EDM-G","n":"EDM","v":0.518},{"p":1,"c":"EDM-G","n":"EDM","v":0.495},{"p":1,"c":"EDM-G","n":"EDM","v":0.471},{"p":1,"c":"EDM-G","n":"EDM","v":0.429},{"p":1,"c":"EDM-G","n":"EDM","v":0.377},{"p":1,"c":"EDM-G","n":"EDM","v":0.358},{"p":1,"c":"EDM-G","n":"EDM","v":0.326},{"p":1,"c":"EDM-G","n":"EDM","v":0.307},{"p":1,"c":"EDM-G","n":"EDM","v":-0.053},
{"p":1,"c":"EDM-E","n":"EDM","v":0.189},{"p":1,"c":"EDM-E","n":"EDM","v":0.142},{"p":1,"c":"EDM-E","n":"EDM","v":0.06},{"p":1,"c":"EDM-E","n":"EDM","v":0.013},{"p":1,"c":"EDM-E","n":"EDM","v":-0.034},{"p":1,"c":"EDM-E","n":"EDM","v":-0.057},{"p":1,"c":"EDM-E","n":"EDM","v":-0.074},{"p":1,"c":"EDM-E","n":"EDM","v":-0.093},{"p":1,"c":"EDM-E","n":"EDM","v":-0.128},{"p":1,"c":"EDM-E","n":"EDM","v":-0.175},{"p":1,"c":"EDM-E","n":"EDM","v":-0.222},{"p":1,"c":"EDM-E","n":"EDM","v":-0.276},
{"p":1,"c":"EVM-G","n":"EVM","v":0.918},{"p":1,"c":"EVM-G","n":"EVM","v":0.852},{"p":1,"c":"EVM-G","n":"EVM","v":0.835},{"p":1,"c":"EVM-G","n":"EVM","v":0.819},{"p":1,"c":"EVM-G","n":"EVM","v":0.8},{"p":1,"c":"EVM-G","n":"EVM","v":0.781},{"p":1,"c":"EVM-G","n":"EVM","v":0.765},{"p":1,"c":"EVM-G","n":"EVM","v":0.748},{"p":1,"c":"EVM-G","n":"EVM","v":0.73},{"p":1,"c":"EVM-G","n":"EVM","v":0.711},{"p":1,"c":"EVM-G","n":"EVM","v":0.687},{"p":1,"c":"EVM-G","n":"EVM","v":0.636},{"p":1,"c":"EVM-G","n":"EVM","v":0.624},{"p":1,"c":"EVM-G","n":"EVM","v":0.577},{"p":1,"c":"EVM-G","n":"EVM","v":0.53},{"p":1,"c":"EVM-G","n":"EVM","v":0.518},{"p":1,"c":"EVM-G","n":"EVM","v":0.459},{"p":1,"c":"EVM-G","n":"EVM","v":0.405},{"p":1,"c":"EVM-G","n":"EVM","v":0.208},
{"p":1,"c":"EVM-E","n":"EVM","v":0.166},{"p":1,"c":"EVM-E","n":"EVM","v":0.048},{"p":1,"c":"EVM-E","n":"EVM","v":-0.01},{"p":1,"c":"EVM-E","n":"EVM","v":-0.046},{"p":1,"c":"EVM-E","n":"EVM","v":-0.074},{"p":1,"c":"EVM-E","n":"EVM","v":-0.093},{"p":1,"c":"EVM-E","n":"EVM","v":-0.116},{"p":1,"c":"EVM-E","n":"EVM","v":-0.14},{"p":1,"c":"EVM-E","n":"EVM","v":-0.21},{"p":1,"c":"EVM-E","n":"EVM","v":-0.234},
{"p":2,"c":"A","n":"A","v":0.307},{"p":2,"c":"A","n":"A","v":0.189},{"p":2,"c":"A","n":"A","v":0.178},{"p":2,"c":"A","n":"A","v":0.1},{"p":2,"c":"A","n":"A","v":0.072},{"p":2,"c":"A","n":"A","v":-0.046},{"p":2,"c":"A","n":"A","v":-0.116},{"p":2,"c":"A","n":"A","v":-0.135},{"p":2,"c":"A","n":"A","v":-0.234},
{"p":2,"c":"B","n":"B","v":0.213},{"p":2,"c":"B","n":"B","v":0.107},{"p":2,"c":"B","n":"B","v":0.084},{"p":2,"c":"B","n":"B","v":0.06},{"p":2,"c":"B","n":"B","v":0.013},{"p":2,"c":"B","n":"B","v":-0.057},{"p":2,"c":"B","n":"B","v":-0.116},{"p":2,"c":"B","n":"B","v":-0.21},{"p":2,"c":"B","n":"B","v":-0.222},{"p":2,"c":"B","n":"B","v":-0.299},{"p":2,"c":"B","n":"B","v":-0.405},
{"p":2,"c":"C","n":"C","v":0.711},{"p":2,"c":"C","n":"C","v":0.647},{"p":2,"c":"C","n":"C","v":0.624},{"p":2,"c":"C","n":"C","v":0.518},{"p":2,"c":"C","n":"C","v":0.483},{"p":2,"c":"C","n":"C","v":0.307},{"p":2,"c":"C","n":"C","v":0.272},{"p":2,"c":"C","n":"C","v":0.248},{"p":2,"c":"C","n":"C","v":0.067},{"p":2,"c":"C","n":"C","v":0.037},{"p":2,"c":"C","n":"C","v":-0.069},{"p":2,"c":"C","n":"C","v":-0.093},{"p":2,"c":"C","n":"C","v":-0.222},
{"p":2,"c":"EDM","n":"EDM","v":0.734},{"p":2,"c":"EDM","n":"EDM","v":0.671},{"p":2,"c":"EDM","n":"EDM","v":0.577},{"p":2,"c":"EDM","n":"EDM","v":0.57},{"p":2,"c":"EDM","n":"EDM","v":0.506},{"p":2,"c":"EDM","n":"EDM","v":0.483},{"p":2,"c":"EDM","n":"EDM","v":0.448},{"p":2,"c":"EDM","n":"EDM","v":0.389},{"p":2,"c":"EDM","n":"EDM","v":0.354},{"p":2,"c":"EDM","n":"EDM","v":0.307},{"p":2,"c":"EDM","n":"EDM","v":0.236},{"p":2,"c":"EDM","n":"EDM","v":0.194},{"p":2,"c":"EDM","n":"EDM","v":0.001},{"p":2,"c":"EDM","n":"EDM","v":-0.034},{"p":2,"c":"EDM","n":"EDM","v":-0.057},{"p":2,"c":"EDM","n":"EDM","v":-0.074},
{"p":2,"c":"EVM","n":"EVM","v":0.807},{"p":2,"c":"EVM","n":"EVM","v":0.753},{"p":2,"c":"EVM","n":"EVM","v":0.683},{"p":2,"c":"EVM","n":"EVM","v":0.647},{"p":2,"c":"EVM","n":"EVM","v":0.636},{"p":2,"c":"EVM","n":"EVM","v":0.624},{"p":2,"c":"EVM","n":"EVM","v":0.577},{"p":2,"c":"EVM","n":"EVM","v":0.506},{"p":2,"c":"EVM","n":"EVM","v":0.483},{"p":2,"c":"EVM","n":"EVM","v":0.459},{"p":2,"c":"EVM","n":"EVM","v":0.436},{"p":2,"c":"EVM","n":"EVM","v":0.377},{"p":2,"c":"EVM","n":"EVM","v":0.307},{"p":2,"c":"EVM","n":"EVM","v":0.236},{"p":2,"c":"EVM","n":"EVM","v":0.189},{"p":2,"c":"EVM","n":"EVM","v":-0.006},
{"p":3,"c":"A-G","n":"A","v":0.257},{"p":3,"c":"A-G","n":"A","v":0.222},{"p":3,"c":"A-G","n":"A","v":0.116},{"p":3,"c":"A-G","n":"A","v":0.081},{"p":3,"c":"A-G","n":"A","v":0.046},{"p":3,"c":"A-G","n":"A","v":-0.02},{"p":3,"c":"A-G","n":"A","v":-0.053},{"p":3,"c":"A-G","n":"A","v":-0.067},{"p":3,"c":"A-G","n":"A","v":-0.109},{"p":3,"c":"A-G","n":"A","v":-0.13},{"p":3,"c":"A-G","n":"A","v":-0.151},{"p":3,"c":"A-G","n":"A","v":-0.187},{"p":3,"c":"A-G","n":"A","v":-0.222},{"p":3,"c":"A-G","n":"A","v":-0.257},{"p":3,"c":"A-G","n":"A","v":-0.292},{"p":3,"c":"A-G","n":"A","v":-0.328},{"p":3,"c":"A-G","n":"A","v":-0.363},{"p":3,"c":"A-G","n":"A","v":-0.384},{"p":3,"c":"A-G","n":"A","v":-0.412},{"p":3,"c":"A-G","n":"A","v":-0.49},
{"p":3,"c":"A-E","n":"A","v":0.037},{"p":3,"c":"A-E","n":"A","v":0.025},{"p":3,"c":"A-E","n":"A","v":0.013},{"p":3,"c":"A-E","n":"A","v":0.001},{"p":3,"c":"A-E","n":"A","v":-0.01},{"p":3,"c":"A-E","n":"A","v":-0.022},{"p":3,"c":"A-E","n":"A","v":-0.034},{"p":3,"c":"A-E","n":"A","v":-0.046},{"p":3,"c":"A-E","n":"A","v":-0.128},{"p":3,"c":"A-E","n":"A","v":-0.14},
{"p":3,"c":"B-G","n":"B","v":0.683},{"p":3,"c":"B-G","n":"B","v":0.56},{"p":3,"c":"B-G","n":"B","v":0.506},{"p":3,"c":"B-G","n":"B","v":0.436},{"p":3,"c":"B-G","n":"B","v":0.424},{"p":3,"c":"B-G","n":"B","v":0.412},{"p":3,"c":"B-G","n":"B","v":0.389},{"p":3,"c":"B-G","n":"B","v":0.365},{"p":3,"c":"B-G","n":"B","v":0.318},{"p":3,"c":"B-G","n":"B","v":0.295},{"p":3,"c":"B-G","n":"B","v":0.271},{"p":3,"c":"B-G","n":"B","v":0.248},{"p":3,"c":"B-G","n":"B","v":0.225},{"p":3,"c":"B-G","n":"B","v":0.119},{"p":3,"c":"B-G","n":"B","v":0.095},{"p":3,"c":"B-G","n":"B","v":0.072},{"p":3,"c":"B-G","n":"B","v":0.048},{"p":3,"c":"B-G","n":"B","v":-0.088},{"p":3,"c":"B-G","n":"B","v":-0.175},
{"p":3,"c":"B-E","n":"B","v":-0.034},{"p":3,"c":"B-E","n":"B","v":-0.057},{"p":3,"c":"B-E","n":"B","v":-0.069},{"p":3,"c":"B-E","n":"B","v":-0.08},{"p":3,"c":"B-E","n":"B","v":-0.093},{"p":3,"c":"B-E","n":"B","v":-0.1},{"p":3,"c":"B-E","n":"B","v":-0.116},{"p":3,"c":"B-E","n":"B","v":-0.12},{"p":3,"c":"B-E","n":"B","v":-0.135},{"p":3,"c":"B-E","n":"B","v":-0.151},{"p":3,"c":"B-E","n":"B","v":-0.299},
{"p":3,"c":"C-G","n":"C","v":0.6},{"p":3,"c":"C-G","n":"C","v":0.518},{"p":3,"c":"C-G","n":"C","v":0.506},{"p":3,"c":"C-G","n":"C","v":0.448},{"p":3,"c":"C-G","n":"C","v":0.436},{"p":3,"c":"C-G","n":"C","v":0.33},{"p":3,"c":"C-G","n":"C","v":0.318},{"p":3,"c":"C-G","n":"C","v":0.283},{"p":3,"c":"C-G","n":"C","v":0.236},{"p":3,"c":"C-G","n":"C","v":0.213},{"p":3,"c":"C-G","n":"C","v":0.189},{"p":3,"c":"C-G","n":"C","v":0.166},{"p":3,"c":"C-G","n":"C","v":0.142},{"p":3,"c":"C-G","n":"C","v":0.131},{"p":3,"c":"C-G","n":"C","v":0.107},{"p":3,"c":"C-G","n":"C","v":0.013},{"p":3,"c":"C-G","n":"C","v":-0.01},{"p":3,"c":"C-G","n":"C","v":-0.046},{"p":3,"c":"C-G","n":"C","v":-0.093},{"p":3,"c":"C-G","n":"C","v":-0.14},{"p":3,"c":"C-G","n":"C","v":-0.151},{"p":3,"c":"C-G","n":"C","v":-0.339},{"p":3,"c":"C-G","n":"C","v":-0.363},
{"p":3,"c":"C-E","n":"C","v":0.053},{"p":3,"c":"C-E","n":"C","v":-0.01},{"p":3,"c":"C-E","n":"C","v":-0.041},{"p":3,"c":"C-E","n":"C","v":-0.058},{"p":3,"c":"C-E","n":"C","v":-0.069},{"p":3,"c":"C-E","n":"C","v":-0.139},{"p":3,"c":"C-E","n":"C","v":-0.163},{"p":3,"c":"C-E","n":"C","v":-0.187},{"p":3,"c":"C-E","n":"C","v":-0.222},{"p":3,"c":"C-E","n":"C","v":-0.245},{"p":3,"c":"C-E","n":"C","v":-0.257},{"p":3,"c":"C-E","n":"C","v":-0.316},
{"p":3,"c":"D-G","n":"D","v":0.452},{"p":3,"c":"D-G","n":"D","v":0.248},{"p":3,"c":"D-G","n":"D","v":0.131},{"p":3,"c":"D-G","n":"D","v":0.107},{"p":3,"c":"D-G","n":"D","v":0.095},{"p":3,"c":"D-G","n":"D","v":0.037},{"p":3,"c":"D-G","n":"D","v":-0.057},{"p":3,"c":"D-G","n":"D","v":-0.069},{"p":3,"c":"D-G","n":"D","v":-0.093},{"p":3,"c":"D-G","n":"D","v":-0.116},{"p":3,"c":"D-G","n":"D","v":-0.14},{"p":3,"c":"D-G","n":"D","v":-0.163},{"p":3,"c":"D-G","n":"D","v":-0.187},{"p":3,"c":"D-G","n":"D","v":-0.21},{"p":3,"c":"D-G","n":"D","v":-0.257},{"p":3,"c":"D-G","n":"D","v":-0.269},{"p":3,"c":"D-G","n":"D","v":-0.304},{"p":3,"c":"D-G","n":"D","v":-0.374},{"p":3,"c":"D-G","n":"D","v":-0.398},{"p":3,"c":"D-G","n":"D","v":-0.445},{"p":3,"c":"D-G","n":"D","v":-0.539},{"p":3,"c":"D-G","n":"D","v":-0.769},
{"p":3,"c":"D-E","n":"D","v":0.091},{"p":3,"c":"D-E","n":"D","v":0.025},{"p":3,"c":"D-E","n":"D","v":-0.034},{"p":3,"c":"D-E","n":"D","v":-0.041},{"p":3,"c":"D-E","n":"D","v":-0.057},{"p":3,"c":"D-E","n":"D","v":-0.081},{"p":3,"c":"D-E","n":"D","v":-0.104},{"p":3,"c":"D-E","n":"D","v":-0.128},{"p":3,"c":"D-E","n":"D","v":-0.163},{"p":3,"c":"D-E","n":"D","v":-0.257},{"p":3,"c":"D-E","n":"D","v":-0.328},
{"p":3,"c":"EDM-G","n":"EDM","v":0.389},{"p":3,"c":"EDM-G","n":"EDM","v":0.225},{"p":3,"c":"EDM-G","n":"EDM","v":0.189},{"p":3,"c":"EDM-G","n":"EDM","v":0.178},{"p":3,"c":"EDM-G","n":"EDM","v":0.107},{"p":3,"c":"EDM-G","n":"EDM","v":0.06},{"p":3,"c":"EDM-G","n":"EDM","v":0.013},{"p":3,"c":"EDM-G","n":"EDM","v":-0.01},{"p":3,"c":"EDM-G","n":"EDM","v":-0.022},{"p":3,"c":"EDM-G","n":"EDM","v":-0.034},{"p":3,"c":"EDM-G","n":"EDM","v":-0.046},{"p":3,"c":"EDM-G","n":"EDM","v":-0.093},{"p":3,"c":"EDM-G","n":"EDM","v":-0.14},{"p":3,"c":"EDM-G","n":"EDM","v":-0.21},{"p":3,"c":"EDM-G","n":"EDM","v":-0.245},{"p":3,"c":"EDM-G","n":"EDM","v":-0.292},{"p":3,"c":"EDM-G","n":"EDM","v":-0.398},{"p":3,"c":"EDM-G","n":"EDM","v":-0.48},{"p":3,"c":"EDM-G","n":"EDM","v":-0.598},
{"p":3,"c":"EDM-E","n":"EDM","v":0.189},{"p":3,"c":"EDM-E","n":"EDM","v":0.013},{"p":3,"c":"EDM-E","n":"EDM","v":-0.022},{"p":3,"c":"EDM-E","n":"EDM","v":-0.046},{"p":3,"c":"EDM-E","n":"EDM","v":-0.093},{"p":3,"c":"EDM-E","n":"EDM","v":-0.128},{"p":3,"c":"EDM-E","n":"EDM","v":-0.151},{"p":3,"c":"EDM-E","n":"EDM","v":-0.187},{"p":3,"c":"EDM-E","n":"EDM","v":-0.21},{"p":3,"c":"EDM-E","n":"EDM","v":-0.252},{"p":3,"c":"EDM-E","n":"EDM","v":-0.339},
{"p":3,"c":"EVM-G","n":"EVM","v":0.624},{"p":3,"c":"EVM-G","n":"EVM","v":0.365},{"p":3,"c":"EVM-G","n":"EVM","v":0.318},{"p":3,"c":"EVM-G","n":"EVM","v":0.26},{"p":3,"c":"EVM-G","n":"EVM","v":0.248},{"p":3,"c":"EVM-G","n":"EVM","v":0.166},{"p":3,"c":"EVM-G","n":"EVM","v":0.131},{"p":3,"c":"EVM-G","n":"EVM","v":0.119},{"p":3,"c":"EVM-G","n":"EVM","v":0.107},{"p":3,"c":"EVM-G","n":"EVM","v":0.048},{"p":3,"c":"EVM-G","n":"EVM","v":0.013},{"p":3,"c":"EVM-G","n":"EVM","v":-0.046},{"p":3,"c":"EVM-G","n":"EVM","v":-0.093},{"p":3,"c":"EVM-G","n":"EVM","v":-0.14},{"p":3,"c":"EVM-G","n":"EVM","v":-0.21},{"p":3,"c":"EVM-G","n":"EVM","v":-0.222},{"p":3,"c":"EVM-G","n":"EVM","v":-0.299},{"p":3,"c":"EVM-G","n":"EVM","v":-0.48},{"p":3,"c":"EVM-G","n":"EVM","v":-0.492},{"p":3,"c":"EVM-G","n":"EVM","v":-0.715},
{"p":3,"c":"EVM-E","n":"EVM","v":0.044},{"p":3,"c":"EVM-E","n":"EVM","v":-0.01},{"p":3,"c":"EVM-E","n":"EVM","v":-0.041},{"p":3,"c":"EVM-E","n":"EVM","v":-0.093},{"p":3,"c":"EVM-E","n":"EVM","v":-0.128},{"p":3,"c":"EVM-E","n":"EVM","v":-0.175},{"p":3,"c":"EVM-E","n":"EVM","v":-0.205},{"p":3,"c":"EVM-E","n":"EVM","v":-0.262},{"p":3,"c":"EVM-E","n":"EVM","v":-0.281},{"p":3,"c":"EVM-E","n":"EVM","v":-0.351},
{"p":4,"c":"A","n":"A","v":0.271},{"p":4,"c":"A","n":"A","v":0.17},{"p":4,"c":"A","n":"A","v":-0.034},{"p":4,"c":"A","n":"A","v":-0.069},{"p":4,"c":"A","n":"A","v":-0.104},{"p":4,"c":"A","n":"A","v":-0.144},{"p":4,"c":"A","n":"A","v":-0.21},{"p":4,"c":"A","n":"A","v":-0.226},{"p":4,"c":"A","n":"A","v":-0.393},
{"p":4,"c":"B","n":"B","v":0.593},{"p":4,"c":"B","n":"B","v":0.584},{"p":4,"c":"B","n":"B","v":0.401},{"p":4,"c":"B","n":"B","v":0.358},{"p":4,"c":"B","n":"B","v":0.295},{"p":4,"c":"B","n":"B","v":0.208},{"p":4,"c":"B","n":"B","v":0.041},{"p":4,"c":"B","n":"B","v":-0.074},{"p":4,"c":"B","n":"B","v":-0.144},{"p":4,"c":"B","n":"B","v":-0.168},
{"p":4,"c":"C","n":"C","v":0.518},{"p":4,"c":"C","n":"C","v":0.318},{"p":4,"c":"C","n":"C","v":0.276},{"p":4,"c":"C","n":"C","v":0.201},{"p":4,"c":"C","n":"C","v":0.142},{"p":4,"c":"C","n":"C","v":0.084},{"p":4,"c":"C","n":"C","v":0.013},{"p":4,"c":"C","n":"C","v":-0.022},{"p":4,"c":"C","n":"C","v":-0.046},{"p":4,"c":"C","n":"C","v":-0.074},{"p":4,"c":"C","n":"C","v":-0.109},{"p":4,"c":"C","n":"C","v":-0.316},{"p":4,"c":"C","n":"C","v":-0.37},{"p":4,"c":"C","n":"C","v":-0.508},
{"p":4,"c":"EDM","n":"EDM","v":0.459},{"p":4,"c":"EDM","n":"EDM","v":0.072},{"p":4,"c":"EDM","n":"EDM","v":0.048},{"p":4,"c":"EDM","n":"EDM","v":0.013},{"p":4,"c":"EDM","n":"EDM","v":-0.01},{"p":4,"c":"EDM","n":"EDM","v":-0.022},{"p":4,"c":"EDM","n":"EDM","v":-0.046},{"p":4,"c":"EDM","n":"EDM","v":-0.081},{"p":4,"c":"EDM","n":"EDM","v":-0.104},{"p":4,"c":"EDM","n":"EDM","v":-0.144},{"p":4,"c":"EDM","n":"EDM","v":-0.168},{"p":4,"c":"EDM","n":"EDM","v":-0.198},{"p":4,"c":"EDM","n":"EDM","v":-0.398},{"p":4,"c":"EDM","n":"EDM","v":-0.48},{"p":4,"c":"EDM","n":"EDM","v":-0.52},{"p":4,"c":"EDM","n":"EDM","v":-0.614},
{"p":4,"c":"EVM","n":"EVM","v":0.49},{"p":4,"c":"EVM","n":"EVM","v":0.307},{"p":4,"c":"EVM","n":"EVM","v":0.154},{"p":4,"c":"EVM","n":"EVM","v":0.147},{"p":4,"c":"EVM","n":"EVM","v":0.084},{"p":4,"c":"EVM","n":"EVM","v":0.037},{"p":4,"c":"EVM","n":"EVM","v":0.006},{"p":4,"c":"EVM","n":"EVM","v":-0.022},{"p":4,"c":"EVM","n":"EVM","v":-0.057},{"p":4,"c":"EVM","n":"EVM","v":-0.093},{"p":4,"c":"EVM","n":"EVM","v":-0.14},{"p":4,"c":"EVM","n":"EVM","v":-0.198},{"p":4,"c":"EVM","n":"EVM","v":-0.238},{"p":4,"c":"EVM","n":"EVM","v":-0.339},{"p":4,"c":"EVM","n":"EVM","v":-0.386},{"p":4,"c":"EVM","n":"EVM","v":-0.602}
]
},
"resolve":{"scale":{"x":"independent","y":"independent","color":"independent"}},
"layer":[
{"data":{"name":"tr"},"transform":[{"filter":"datum.s=='A'"}],"mark":{"type":"line","color":"#1a1a1a","strokeWidth":1.2},"encoding":{"x":{"field":"t","type":"quantitative","scale":{"domain":[0,60],"range":[140,292],"nice":false,"zero":false},"axis":null},"y":{"field":"v","type":"quantitative","scale":{"domain":[0,1],"range":[57,32.5],"nice":false,"zero":false},"axis":{"orient":"left","offset":-95,"values":[0,1],"format":"d","tickSize":-3,"labelPadding":10,"labelFontSize":13,"title":null,"domainWidth":1.2,"tickWidth":1.2}}}},
{"data":{"name":"tr"},"transform":[{"filter":"datum.s=='C'"}],"mark":{"type":"line","color":"#ed1c24","strokeWidth":1.2},"encoding":{"x":{"field":"t","type":"quantitative","scale":{"domain":[0,60],"range":[140,292],"nice":false,"zero":false},"axis":null},"y":{"field":"v","type":"quantitative","scale":{"domain":[0,1],"range":[104.5,80],"nice":false,"zero":false},"axis":{"orient":"left","offset":-95,"values":[0,1],"format":"d","tickSize":-3,"labelPadding":10,"labelFontSize":13,"title":null,"domainWidth":1.2,"tickWidth":1.2}}}},
{"data":{"name":"tr"},"transform":[{"filter":"datum.s=='D'"}],"mark":{"type":"line","color":"#0c9346","strokeWidth":1.2},"encoding":{"x":{"field":"t","type":"quantitative","scale":{"domain":[0,60],"range":[140,292],"nice":false,"zero":false},"axis":null},"y":{"field":"v","type":"quantitative","scale":{"domain":[0,1],"range":[154,129.5],"nice":false,"zero":false},"axis":{"orient":"left","offset":-95,"values":[0,1],"format":"d","tickSize":-3,"labelPadding":10,"labelFontSize":13,"title":null,"domainWidth":1.2,"tickWidth":1.2}}}},
{"data":{"name":"tr"},"transform":[{"filter":"datum.s=='EDM'"}],"mark":{"type":"line","color":"#bf6a2c","strokeWidth":1.2},"encoding":{"x":{"field":"t","type":"quantitative","scale":{"domain":[0,60],"range":[140,292],"nice":false,"zero":false},"axis":null},"y":{"field":"v","type":"quantitative","scale":{"domain":[0,1],"range":[196.5,172],"nice":false,"zero":false},"axis":{"orient":"left","offset":-95,"values":[0,1],"format":"d","tickSize":-3,"labelPadding":10,"labelFontSize":13,"title":null,"domainWidth":1.2,"tickWidth":1.2}}}},
{"data":{"name":"tr"},"transform":[{"filter":"datum.s=='EVM'"}],"mark":{"type":"line","color":"#8c4da6","strokeWidth":1.2},"encoding":{"x":{"field":"t","type":"quantitative","scale":{"domain":[0,60],"range":[140,292],"nice":false,"zero":false},"axis":null},"y":{"field":"v","type":"quantitative","scale":{"domain":[0,1],"range":[240,215.5],"nice":false,"zero":false},"axis":{"orient":"left","offset":-95,"values":[0,1],"format":"d","tickSize":-3,"labelPadding":10,"labelFontSize":13,"title":null,"domainWidth":1.2,"tickWidth":1.2}}}},
{"data":{"name":"tr"},"transform":[{"filter":"datum.s=='o1'"}],"mark":{"type":"line","color":"#ed1c24","strokeWidth":1.3},"encoding":{"x":{"field":"t","type":"quantitative","scale":{"domain":[0,60],"range":[140,292],"nice":false,"zero":false},"axis":null},"y":{"field":"v","type":"quantitative","scale":{"domain":[0,20],"range":[302.5,265],"nice":false,"zero":false},"axis":{"orient":"left","offset":-91,"values":[0,20],"format":"d","tickSize":-3,"labelPadding":9,"labelFontSize":14,"title":null,"domainWidth":1.2,"tickWidth":1.2}}}},
{"data":{"name":"tr"},"transform":[{"filter":"datum.s=='o5'"}],"mark":{"type":"line","color":"#3a58b3","strokeWidth":1.3},"encoding":{"x":{"field":"t","type":"quantitative","scale":{"domain":[0,60],"range":[140,292],"nice":false,"zero":false},"axis":null},"y":{"field":"v","type":"quantitative","scale":{"domain":[0,20],"range":[302.5,265],"nice":false,"zero":false},"axis":null}}},
{"data":{"name":"tr"},"transform":[{"filter":"datum.s=='o2'"}],"mark":{"type":"line","color":"#1a1a1a","strokeWidth":1.3},"encoding":{"x":{"field":"t","type":"quantitative","scale":{"domain":[0,60],"range":[140,292],"nice":false,"zero":false},"axis":null},"y":{"field":"v","type":"quantitative","scale":{"domain":[0,20],"range":[302.5,265],"nice":false,"zero":false},"axis":null}}},
{"data":{"name":"tr"},"transform":[{"filter":"datum.s=='a1'"}],"mark":{"type":"line","color":"#ed1c24","strokeWidth":1.3},"encoding":{"x":{"field":"t","type":"quantitative","scale":{"domain":[0,60],"range":[140,292],"nice":false,"zero":false},"axis":null},"y":{"field":"v","type":"quantitative","scale":{"domain":[0,200],"range":[355,320],"nice":false,"zero":false},"axis":{"orient":"left","offset":-91,"values":[0,200],"format":"d","tickSize":-3,"labelPadding":9,"labelFontSize":14,"title":null,"domainWidth":1.2,"tickWidth":1.2}}}},
{"data":{"name":"tr"},"transform":[{"filter":"datum.s=='a5'"}],"mark":{"type":"line","color":"#3a58b3","strokeWidth":1.3},"encoding":{"x":{"field":"t","type":"quantitative","scale":{"domain":[0,60],"range":[140,292],"nice":false,"zero":false},"axis":null},"y":{"field":"v","type":"quantitative","scale":{"domain":[0,200],"range":[355,320],"nice":false,"zero":false},"axis":null}}},
{"data":{"name":"tr"},"transform":[{"filter":"datum.s=='a2'"}],"mark":{"type":"line","color":"#1a1a1a","strokeWidth":1.3},"encoding":{"x":{"field":"t","type":"quantitative","scale":{"domain":[0,60],"range":[140,292],"nice":false,"zero":false},"axis":{"orient":"bottom","offset":-45,"values":[0,20,40,60],"tickSize":-4,"labelPadding":15,"labelFontSize":17,"labelFlush":false,"title":"Time from flight initiation (s)","titleFontSize":16,"titlePadding":2,"domainWidth":1.2,"tickWidth":1.2}},"y":{"field":"v","type":"quantitative","scale":{"domain":[0,200],"range":[355,320],"nice":false,"zero":false},"axis":null}}},
{"data":{"values":[{}]},"mark":{"type":"text","text":"A","fontSize":15.5,"color":"#111"},"encoding":{"x":{"datum":-32.8,"type":"quantitative","scale":{"domain":[0,60],"range":[140,292],"nice":false,"zero":false},"axis":null},"y":{"datum":0.367,"type":"quantitative","scale":{"domain":[0,1],"range":[57,32.5],"nice":false,"zero":false},"axis":null}}},
{"data":{"values":[{}]},"mark":{"type":"text","text":"C","fontSize":15.5,"color":"#ed1c24"},"encoding":{"x":{"datum":-32.8,"type":"quantitative","scale":{"domain":[0,60],"range":[140,292],"nice":false,"zero":false},"axis":null},"y":{"datum":0.51,"type":"quantitative","scale":{"domain":[0,1],"range":[104.5,80],"nice":false,"zero":false},"axis":null}}},
{"data":{"values":[{}]},"mark":{"type":"text","text":"D","fontSize":15.5,"color":"#0c9346"},"encoding":{"x":{"datum":-32.8,"type":"quantitative","scale":{"domain":[0,60],"range":[140,292],"nice":false,"zero":false},"axis":null},"y":{"datum":0.49,"type":"quantitative","scale":{"domain":[0,1],"range":[154,129.5],"nice":false,"zero":false},"axis":null}}},
{"data":{"values":[{}]},"mark":{"type":"text","text":"EDM","fontSize":15.5,"color":"#bf6a2c"},"encoding":{"x":{"datum":-32.6,"type":"quantitative","scale":{"domain":[0,60],"range":[140,292],"nice":false,"zero":false},"axis":null},"y":{"datum":0.55,"type":"quantitative","scale":{"domain":[0,1],"range":[196.5,172],"nice":false,"zero":false},"axis":null}}},
{"data":{"values":[{}]},"mark":{"type":"text","text":"EVM","fontSize":15.5,"color":"#8c4da6"},"encoding":{"x":{"datum":-32.6,"type":"quantitative","scale":{"domain":[0,60],"range":[140,292],"nice":false,"zero":false},"axis":null},"y":{"datum":0.41,"type":"quantitative","scale":{"domain":[0,1],"range":[240,215.5],"nice":false,"zero":false},"axis":null}}},
{"data":{"values":[{}]},"mark":{"type":"text","text":"ΔF/F","fontSize":16,"angle":270,"color":"#111"},"encoding":{"x":{"datum":-47.8,"type":"quantitative","scale":{"domain":[0,60],"range":[140,292],"nice":false,"zero":false},"axis":null},"y":{"datum":0.163,"type":"quantitative","scale":{"domain":[0,1],"range":[154,129.5],"nice":false,"zero":false},"axis":null}}},
{"data":{"values":[{}]},"mark":{"type":"text","text":["Osc","power"],"lineHeight":17,"fontSize":16,"angle":270,"color":"#111"},"encoding":{"x":{"datum":-41.6,"type":"quantitative","scale":{"domain":[0,60],"range":[140,292],"nice":false,"zero":false},"axis":null},"y":{"datum":9.9,"type":"quantitative","scale":{"domain":[0,20],"range":[302.5,265],"nice":false,"zero":false},"axis":null}}},
{"data":{"values":[{}]},"mark":{"type":"text","text":["Mean","angle"],"lineHeight":17,"fontSize":16,"angle":270,"color":"#111"},"encoding":{"x":{"datum":-41.6,"type":"quantitative","scale":{"domain":[0,60],"range":[140,292],"nice":false,"zero":false},"axis":null},"y":{"datum":68.6,"type":"quantitative","scale":{"domain":[0,200],"range":[355,320],"nice":false,"zero":false},"axis":null}}},
{"data":{"values":[{}]},"mark":{"type":"text","text":"A","fontSize":28,"fontWeight":"bold","color":"#000"},"encoding":{"x":{"datum":-46.2,"type":"quantitative","scale":{"domain":[0,60],"range":[140,292],"nice":false,"zero":false},"axis":null},"y":{"datum":1.28,"type":"quantitative","scale":{"domain":[0,1],"range":[57,32.5],"nice":false,"zero":false},"axis":null}}},
{"data":{"values":[{}]},"mark":{"type":"text","text":"τ =","align":"left","fontSize":13,"color":"#111"},"encoding":{"x":{"datum":10.26,"type":"quantitative","scale":{"domain":[0,60],"range":[140,292],"nice":false,"zero":false},"axis":null},"y":{"datum":0.3,"type":"quantitative","scale":{"domain":[0,20],"range":[302.5,265],"nice":false,"zero":false},"axis":null}}},
{"data":{"values":[{}]},"mark":{"type":"text","text":"1000","align":"left","fontSize":13,"color":"#ed1c24"},"encoding":{"x":{"datum":18.55,"type":"quantitative","scale":{"domain":[0,60],"range":[140,292],"nice":false,"zero":false},"axis":null},"y":{"datum":0.3,"type":"quantitative","scale":{"domain":[0,20],"range":[302.5,265],"nice":false,"zero":false},"axis":null}}},
{"data":{"values":[{}]},"mark":{"type":"text","text":",","align":"left","fontSize":13,"color":"#111"},"encoding":{"x":{"datum":29.96,"type":"quantitative","scale":{"domain":[0,60],"range":[140,292],"nice":false,"zero":false},"axis":null},"y":{"datum":0.3,"type":"quantitative","scale":{"domain":[0,20],"range":[302.5,265],"nice":false,"zero":false},"axis":null}}},
{"data":{"values":[{}]},"mark":{"type":"text","text":"500","align":"left","fontSize":13,"color":"#3a58b3"},"encoding":{"x":{"datum":32.8,"type":"quantitative","scale":{"domain":[0,60],"range":[140,292],"nice":false,"zero":false},"axis":null},"y":{"datum":0.3,"type":"quantitative","scale":{"domain":[0,20],"range":[302.5,265],"nice":false,"zero":false},"axis":null}}},
{"data":{"values":[{}]},"mark":{"type":"text","text":", and 250 ms","align":"left","fontSize":13,"color":"#111"},"encoding":{"x":{"datum":41.37,"type":"quantitative","scale":{"domain":[0,60],"range":[140,292],"nice":false,"zero":false},"axis":null},"y":{"datum":0.3,"type":"quantitative","scale":{"domain":[0,20],"range":[302.5,265],"nice":false,"zero":false},"axis":null}}},

{"data":{"name":"summ"},"transform":[{"filter":"datum.p==1"}],"mark":{"type":"bar","width":{"band":0.5}},"encoding":{"x":{"field":"c","type":"nominal","scale":{"type":"band","domain":["A-G","A-E","B-G","B-E","C-G","C-E","D-G","D-E","EDM-G","EDM-E","EVM-G","EVM-E"],"range":[422,662],"paddingInner":0,"paddingOuter":0},"axis":null},"y":{"field":"lo","type":"quantitative","scale":{"domain":[-0.8,0.8],"range":[337,110],"nice":false,"zero":false},"axis":{"orient":"left","offset":-403,"values":[-0.8,-0.4,0,0.4,0.8],"format":"~g","tickSize":4,"labelPadding":4,"labelFontSize":16,"title":"Partial correlation to ΔF/F","titleFontSize":16,"titlePadding":4,"domainWidth":1.2,"tickWidth":1.2}},"y2":{"field":"hi"},"color":{"field":"g","type":"nominal","scale":{"domain":["G","E"],"range":["#d3d3d3","#a5d6a2"]},"legend":null}}},
{"data":{"name":"dots"},"transform":[{"filter":"datum.p==1"}],"mark":{"type":"circle","size":16,"opacity":1},"encoding":{"x":{"field":"c","type":"nominal","scale":{"type":"band","domain":["A-G","A-E","B-G","B-E","C-G","C-E","D-G","D-E","EDM-G","EDM-E","EVM-G","EVM-E"],"range":[422,662],"paddingInner":0,"paddingOuter":0},"axis":null},"y":{"field":"v","type":"quantitative","scale":{"domain":[-0.8,0.8],"range":[337,110],"nice":false,"zero":false},"axis":null},"color":{"field":"n","type":"nominal","scale":{"domain":["A","B","C","D","EDM","EVM"],"range":["#9a9a9a","#2e4fa5","#ed1c24","#0c9346","#bf6a2c","#8c4da6"]},"legend":null}}},
{"data":{"name":"summ"},"transform":[{"filter":"datum.p==1"}],"mark":{"type":"tick","color":"#111","size":11,"thickness":2.5},"encoding":{"x":{"field":"c","type":"nominal","scale":{"type":"band","domain":["A-G","A-E","B-G","B-E","C-G","C-E","D-G","D-E","EDM-G","EDM-E","EVM-G","EVM-E"],"range":[422,662],"paddingInner":0,"paddingOuter":0},"axis":null},"y":{"field":"m","type":"quantitative","scale":{"domain":[-0.8,0.8],"range":[337,110],"nice":false,"zero":false},"axis":null}}},
{"data":{"name":"summ"},"transform":[{"filter":"datum.p==1 && datum.sig"}],"mark":{"type":"text","text":"*","fontSize":19,"fill":"#111","color":"#111"},"encoding":{"x":{"field":"c","type":"nominal","scale":{"type":"band","domain":["A-G","A-E","B-G","B-E","C-G","C-E","D-G","D-E","EDM-G","EDM-E","EVM-G","EVM-E"],"range":[422,662],"paddingInner":0,"paddingOuter":0},"axis":null},"y":{"datum":0.985,"type":"quantitative","scale":{"domain":[-0.8,0.8],"range":[337,110],"nice":false,"zero":false},"axis":null}}},
{"data":{"name":"summ"},"transform":[{"filter":"datum.p==1 && datum.g=='G'"}],"mark":{"type":"text","fontSize":17,"xOffset":9},"encoding":{"x":{"field":"c","type":"nominal","scale":{"type":"band","domain":["A-G","A-E","B-G","B-E","C-G","C-E","D-G","D-E","EDM-G","EDM-E","EVM-G","EVM-E"],"range":[422,662],"paddingInner":0,"paddingOuter":0},"axis":null},"y":{"datum":-1.12,"type":"quantitative","scale":{"domain":[-0.8,0.8],"range":[337,110],"nice":false,"zero":false},"axis":null},"text":{"field":"n"},"color":{"field":"n","type":"nominal","scale":{"domain":["A","B","C","D","EDM","EVM"],"range":["#111111","#2e4fa5","#ed1c24","#0c9346","#bf6a2c","#8c4da6"]},"legend":null},"angle":{"condition":{"test":"datum.n=='EDM'||datum.n=='EVM'","value":270},"value":0}}},

{"data":{"name":"summ"},"transform":[{"filter":"datum.p==2"}],"mark":{"type":"bar","width":{"band":0.5}},"encoding":{"x":{"field":"c","type":"nominal","scale":{"type":"band","domain":["A","B","C","EDM","EVM"],"range":[669.5,768.5],"paddingInner":0,"paddingOuter":0},"axis":null},"y":{"field":"lo","type":"quantitative","scale":{"domain":[-0.8,0.8],"range":[337,110],"nice":false,"zero":false},"axis":null},"y2":{"field":"hi"},"color":{"field":"g","type":"nominal","scale":{"domain":["G","E"],"range":["#d3d3d3","#a5d6a2"]},"legend":null}}},
{"data":{"name":"dots"},"transform":[{"filter":"datum.p==2"}],"mark":{"type":"circle","size":16,"opacity":1},"encoding":{"x":{"field":"c","type":"nominal","scale":{"type":"band","domain":["A","B","C","EDM","EVM"],"range":[669.5,768.5],"paddingInner":0,"paddingOuter":0},"axis":null},"y":{"field":"v","type":"quantitative","scale":{"domain":[-0.8,0.8],"range":[337,110],"nice":false,"zero":false},"axis":null},"color":{"field":"n","type":"nominal","scale":{"domain":["A","B","C","D","EDM","EVM"],"range":["#9a9a9a","#2e4fa5","#ed1c24","#0c9346","#bf6a2c","#8c4da6"]},"legend":null}}},
{"data":{"name":"summ"},"transform":[{"filter":"datum.p==2"}],"mark":{"type":"tick","color":"#111","size":11,"thickness":2.5},"encoding":{"x":{"field":"c","type":"nominal","scale":{"type":"band","domain":["A","B","C","EDM","EVM"],"range":[669.5,768.5],"paddingInner":0,"paddingOuter":0},"axis":null},"y":{"field":"m","type":"quantitative","scale":{"domain":[-0.8,0.8],"range":[337,110],"nice":false,"zero":false},"axis":null}}},
{"data":{"name":"summ"},"transform":[{"filter":"datum.p==2 && datum.sig"}],"mark":{"type":"text","text":"*","fontSize":19,"fill":"#111","color":"#111"},"encoding":{"x":{"field":"c","type":"nominal","scale":{"type":"band","domain":["A","B","C","EDM","EVM"],"range":[669.5,768.5],"paddingInner":0,"paddingOuter":0},"axis":null},"y":{"datum":0.985,"type":"quantitative","scale":{"domain":[-0.8,0.8],"range":[337,110],"nice":false,"zero":false},"axis":null}}},
{"data":{"name":"summ"},"transform":[{"filter":"datum.p==2"}],"mark":{"type":"text","fontSize":17},"encoding":{"x":{"field":"c","type":"nominal","scale":{"type":"band","domain":["A","B","C","EDM","EVM"],"range":[669.5,768.5],"paddingInner":0,"paddingOuter":0},"axis":null},"y":{"datum":-1.12,"type":"quantitative","scale":{"domain":[-0.8,0.8],"range":[337,110],"nice":false,"zero":false},"axis":null},"text":{"field":"n"},"color":{"field":"n","type":"nominal","scale":{"domain":["A","B","C","D","EDM","EVM"],"range":["#111111","#2e4fa5","#ed1c24","#0c9346","#bf6a2c","#8c4da6"]},"legend":null},"angle":{"condition":{"test":"datum.n=='EDM'||datum.n=='EVM'","value":270},"value":0}}},

{"data":{"name":"summ"},"transform":[{"filter":"datum.p==3"}],"mark":{"type":"bar","width":{"band":0.5}},"encoding":{"x":{"field":"c","type":"nominal","scale":{"type":"band","domain":["A-G","A-E","B-G","B-E","C-G","C-E","D-G","D-E","EDM-G","EDM-E","EVM-G","EVM-E"],"range":[782,1022],"paddingInner":0,"paddingOuter":0},"axis":null},"y":{"field":"lo","type":"quantitative","scale":{"domain":[-0.8,0.8],"range":[337,110],"nice":false,"zero":false},"axis":null},"y2":{"field":"hi"},"color":{"field":"g","type":"nominal","scale":{"domain":["G","E"],"range":["#d3d3d3","#a5d6a2"]},"legend":null}}},
{"data":{"name":"dots"},"transform":[{"filter":"datum.p==3"}],"mark":{"type":"circle","size":16,"opacity":1},"encoding":{"x":{"field":"c","type":"nominal","scale":{"type":"band","domain":["A-G","A-E","B-G","B-E","C-G","C-E","D-G","D-E","EDM-G","EDM-E","EVM-G","EVM-E"],"range":[782,1022],"paddingInner":0,"paddingOuter":0},"axis":null},"y":{"field":"v","type":"quantitative","scale":{"domain":[-0.8,0.8],"range":[337,110],"nice":false,"zero":false},"axis":null},"color":{"field":"n","type":"nominal","scale":{"domain":["A","B","C","D","EDM","EVM"],"range":["#9a9a9a","#2e4fa5","#ed1c24","#0c9346","#bf6a2c","#8c4da6"]},"legend":null}}},
{"data":{"name":"summ"},"transform":[{"filter":"datum.p==3"}],"mark":{"type":"tick","color":"#111","size":11,"thickness":2.5},"encoding":{"x":{"field":"c","type":"nominal","scale":{"type":"band","domain":["A-G","A-E","B-G","B-E","C-G","C-E","D-G","D-E","EDM-G","EDM-E","EVM-G","EVM-E"],"range":[782,1022],"paddingInner":0,"paddingOuter":0},"axis":null},"y":{"field":"m","type":"quantitative","scale":{"domain":[-0.8,0.8],"range":[337,110],"nice":false,"zero":false},"axis":null}}},
{"data":{"name":"summ"},"transform":[{"filter":"datum.p==3 && datum.sig"}],"mark":{"type":"text","text":"*","fontSize":19,"fill":"#111","color":"#111"},"encoding":{"x":{"field":"c","type":"nominal","scale":{"type":"band","domain":["A-G","A-E","B-G","B-E","C-G","C-E","D-G","D-E","EDM-G","EDM-E","EVM-G","EVM-E"],"range":[782,1022],"paddingInner":0,"paddingOuter":0},"axis":null},"y":{"datum":0.985,"type":"quantitative","scale":{"domain":[-0.8,0.8],"range":[337,110],"nice":false,"zero":false},"axis":null}}},
{"data":{"name":"summ"},"transform":[{"filter":"datum.p==3 && datum.g=='G'"}],"mark":{"type":"text","fontSize":17,"xOffset":9},"encoding":{"x":{"field":"c","type":"nominal","scale":{"type":"band","domain":["A-G","A-E","B-G","B-E","C-G","C-E","D-G","D-E","EDM-G","EDM-E","EVM-G","EVM-E"],"range":[782,1022],"paddingInner":0,"paddingOuter":0},"axis":null},"y":{"datum":-1.12,"type":"quantitative","scale":{"domain":[-0.8,0.8],"range":[337,110],"nice":false,"zero":false},"axis":null},"text":{"field":"n"},"color":{"field":"n","type":"nominal","scale":{"domain":["A","B","C","D","EDM","EVM"],"range":["#111111","#2e4fa5","#ed1c24","#0c9346","#bf6a2c","#8c4da6"]},"legend":null},"angle":{"condition":{"test":"datum.n=='EDM'||datum.n=='EVM'","value":270},"value":0}}},

{"data":{"name":"summ"},"transform":[{"filter":"datum.p==4"}],"mark":{"type":"bar","width":{"band":0.5}},"encoding":{"x":{"field":"c","type":"nominal","scale":{"type":"band","domain":["A","B","C","EDM","EVM"],"range":[1028,1128],"paddingInner":0,"paddingOuter":0},"axis":null},"y":{"field":"lo","type":"quantitative","scale":{"domain":[-0.8,0.8],"range":[337,110],"nice":false,"zero":false},"axis":null},"y2":{"field":"hi"},"color":{"field":"g","type":"nominal","scale":{"domain":["G","E"],"range":["#d3d3d3","#a5d6a2"]},"legend":null}}},
{"data":{"name":"dots"},"transform":[{"filter":"datum.p==4"}],"mark":{"type":"circle","size":16,"opacity":1},"encoding":{"x":{"field":"c","type":"nominal","scale":{"type":"band","domain":["A","B","C","EDM","EVM"],"range":[1028,1128],"paddingInner":0,"paddingOuter":0},"axis":null},"y":{"field":"v","type":"quantitative","scale":{"domain":[-0.8,0.8],"range":[337,110],"nice":false,"zero":false},"axis":null},"color":{"field":"n","type":"nominal","scale":{"domain":["A","B","C","D","EDM","EVM"],"range":["#9a9a9a","#2e4fa5","#ed1c24","#0c9346","#bf6a2c","#8c4da6"]},"legend":null}}},
{"data":{"name":"summ"},"transform":[{"filter":"datum.p==4"}],"mark":{"type":"tick","color":"#111","size":11,"thickness":2.5},"encoding":{"x":{"field":"c","type":"nominal","scale":{"type":"band","domain":["A","B","C","EDM","EVM"],"range":[1028,1128],"paddingInner":0,"paddingOuter":0},"axis":null},"y":{"field":"m","type":"quantitative","scale":{"domain":[-0.8,0.8],"range":[337,110],"nice":false,"zero":false},"axis":null}}},
{"data":{"name":"summ"},"transform":[{"filter":"datum.p==4 && datum.sig"}],"mark":{"type":"text","text":"*","fontSize":19,"fill":"#111","color":"#111"},"encoding":{"x":{"field":"c","type":"nominal","scale":{"type":"band","domain":["A","B","C","EDM","EVM"],"range":[1028,1128],"paddingInner":0,"paddingOuter":0},"axis":null},"y":{"datum":0.985,"type":"quantitative","scale":{"domain":[-0.8,0.8],"range":[337,110],"nice":false,"zero":false},"axis":null}}},
{"data":{"name":"summ"},"transform":[{"filter":"datum.p==4"}],"mark":{"type":"text","fontSize":17},"encoding":{"x":{"field":"c","type":"nominal","scale":{"type":"band","domain":["A","B","C","EDM","EVM"],"range":[1028,1128],"paddingInner":0,"paddingOuter":0},"axis":null},"y":{"datum":-1.12,"type":"quantitative","scale":{"domain":[-0.8,0.8],"range":[337,110],"nice":false,"zero":false},"axis":null},"text":{"field":"n"},"color":{"field":"n","type":"nominal","scale":{"domain":["A","B","C","D","EDM","EVM"],"range":["#111111","#2e4fa5","#ed1c24","#0c9346","#bf6a2c","#8c4da6"]},"legend":null},"angle":{"condition":{"test":"datum.n=='EDM'||datum.n=='EVM'","value":270},"value":0}}},

{"data":{"values":[{}]},"mark":{"type":"text","text":"GCaMP","fontSize":13.5,"angle":270,"color":"#111"},"encoding":{"x":{"datum":"A-G","type":"nominal","scale":{"type":"band","domain":["A-G","A-E","B-G","B-E","C-G","C-E","D-G","D-E","EDM-G","EDM-E","EVM-G","EVM-E"],"range":[422,662],"paddingInner":0,"paddingOuter":0},"axis":null},"y":{"datum":-0.807,"type":"quantitative","scale":{"domain":[-0.8,0.8],"range":[337,110],"nice":false,"zero":false},"axis":null}}},
{"data":{"values":[{}]},"mark":{"type":"text","text":"EGFP","fontSize":13.5,"angle":270,"color":"#0c9346","xOffset":1},"encoding":{"x":{"datum":"A-E","type":"nominal","scale":{"type":"band","domain":["A-G","A-E","B-G","B-E","C-G","C-E","D-G","D-E","EDM-G","EDM-E","EVM-G","EVM-E"],"range":[422,662],"paddingInner":0,"paddingOuter":0},"axis":null},"y":{"datum":-0.807,"type":"quantitative","scale":{"domain":[-0.8,0.8],"range":[337,110],"nice":false,"zero":false},"axis":null}}},
{"data":{"values":[{}]},"mark":{"type":"text","text":"GCaMP","fontSize":13.5,"angle":270,"color":"#111"},"encoding":{"x":{"datum":"A-G","type":"nominal","scale":{"type":"band","domain":["A-G","A-E","B-G","B-E","C-G","C-E","D-G","D-E","EDM-G","EDM-E","EVM-G","EVM-E"],"range":[782,1022],"paddingInner":0,"paddingOuter":0},"axis":null},"y":{"datum":-0.807,"type":"quantitative","scale":{"domain":[-0.8,0.8],"range":[337,110],"nice":false,"zero":false},"axis":null}}},
{"data":{"values":[{}]},"mark":{"type":"text","text":"EGFP","fontSize":13.5,"angle":270,"color":"#0c9346","xOffset":1},"encoding":{"x":{"datum":"A-E","type":"nominal","scale":{"type":"band","domain":["A-G","A-E","B-G","B-E","C-G","C-E","D-G","D-E","EDM-G","EDM-E","EVM-G","EVM-E"],"range":[782,1022],"paddingInner":0,"paddingOuter":0},"axis":null},"y":{"datum":-0.807,"type":"quantitative","scale":{"domain":[-0.8,0.8],"range":[337,110],"nice":false,"zero":false},"axis":null}}},
{"data":{"values":[{}]},"mark":{"type":"text","text":"Oscillation power","fontSize":17,"color":"#111","xOffset":5},"encoding":{"x":{"datum":"EDM-G","type":"nominal","scale":{"type":"band","domain":["A-G","A-E","B-G","B-E","C-G","C-E","D-G","D-E","EDM-G","EDM-E","EVM-G","EVM-E"],"range":[422,662],"paddingInner":0,"paddingOuter":0},"axis":null},"y":{"datum":1.448,"type":"quantitative","scale":{"domain":[-0.8,0.8],"range":[337,110],"nice":false,"zero":false},"axis":null}}},
{"data":{"values":[{}]},"mark":{"type":"text","text":"Mean angle","fontSize":17,"color":"#111"},"encoding":{"x":{"datum":"EDM-G","type":"nominal","scale":{"type":"band","domain":["A-G","A-E","B-G","B-E","C-G","C-E","D-G","D-E","EDM-G","EDM-E","EVM-G","EVM-E"],"range":[782,1022],"paddingInner":0,"paddingOuter":0},"axis":null},"y":{"datum":1.448,"type":"quantitative","scale":{"domain":[-0.8,0.8],"range":[337,110],"nice":false,"zero":false},"axis":null}}},
{"data":{"values":[{}]},"mark":{"type":"text","text":"JO1/F","fontSize":17.5,"fontStyle":"italic","color":"#111","xOffset":-5},"encoding":{"x":{"datum":"D-G","type":"nominal","scale":{"type":"band","domain":["A-G","A-E","B-G","B-E","C-G","C-E","D-G","D-E","EDM-G","EDM-E","EVM-G","EVM-E"],"range":[422,662],"paddingInner":0,"paddingOuter":0},"axis":null},"y":{"datum":1.216,"type":"quantitative","scale":{"domain":[-0.8,0.8],"range":[337,110],"nice":false,"zero":false},"axis":null}}},
{"data":{"values":[{}]},"mark":{"type":"text","text":"JOAB/CE","fontSize":17.5,"fontStyle":"italic","color":"#111","xOffset":-4},"encoding":{"x":{"datum":"C","type":"nominal","scale":{"type":"band","domain":["A","B","C","EDM","EVM"],"range":[669.5,768.5],"paddingInner":0,"paddingOuter":0},"axis":null},"y":{"datum":1.216,"type":"quantitative","scale":{"domain":[-0.8,0.8],"range":[337,110],"nice":false,"zero":false},"axis":null}}},
{"data":{"values":[{}]},"mark":{"type":"text","text":"JO1/F","fontSize":17.5,"fontStyle":"italic","color":"#111","xOffset":-1},"encoding":{"x":{"datum":"D-G","type":"nominal","scale":{"type":"band","domain":["A-G","A-E","B-G","B-E","C-G","C-E","D-G","D-E","EDM-G","EDM-E","EVM-G","EVM-E"],"range":[782,1022],"paddingInner":0,"paddingOuter":0},"axis":null},"y":{"datum":1.216,"type":"quantitative","scale":{"domain":[-0.8,0.8],"range":[337,110],"nice":false,"zero":false},"axis":null}}},
{"data":{"values":[{}]},"mark":{"type":"text","text":"JOAB/CE","fontSize":17.5,"fontStyle":"italic","color":"#111","xOffset":1},"encoding":{"x":{"datum":"C","type":"nominal","scale":{"type":"band","domain":["A","B","C","EDM","EVM"],"range":[1028,1128],"paddingInner":0,"paddingOuter":0},"axis":null},"y":{"datum":1.216,"type":"quantitative","scale":{"domain":[-0.8,0.8],"range":[337,110],"nice":false,"zero":false},"axis":null}}},
{"data":{"values":[{}]},"mark":{"type":"text","text":"B","fontSize":28,"fontWeight":"bold","color":"#000","xOffset":-79},"encoding":{"x":{"datum":"A-G","type":"nominal","scale":{"type":"band","domain":["A-G","A-E","B-G","B-E","C-G","C-E","D-G","D-E","EDM-G","EDM-E","EVM-G","EVM-E"],"range":[422,662],"paddingInner":0,"paddingOuter":0},"axis":null},"y":{"datum":1.395,"type":"quantitative","scale":{"domain":[-0.8,0.8],"range":[337,110],"nice":false,"zero":false},"axis":null}}},
{"data":{"values":[{}]},"mark":{"type":"rule","color":"#333","strokeDash":[2,2],"strokeWidth":1,"xOffset":-5.5},"encoding":{"x":{"datum":"A","type":"nominal","bandPosition":0,"scale":{"type":"band","domain":["A","B","C","EDM","EVM"],"range":[669.5,768.5],"paddingInner":0,"paddingOuter":0},"axis":null},"y":{"datum":0.87,"type":"quantitative","scale":{"domain":[-0.8,0.8],"range":[337,110],"nice":false,"zero":false},"axis":null},"y2":{"datum":-1.046}}},
{"data":{"values":[{}]},"mark":{"type":"rule","color":"#2e4fa5","strokeDash":[2,2],"strokeWidth":2,"xOffset":-5},"encoding":{"x":{"datum":"A-G","type":"nominal","bandPosition":0,"scale":{"type":"band","domain":["A-G","A-E","B-G","B-E","C-G","C-E","D-G","D-E","EDM-G","EDM-E","EVM-G","EVM-E"],"range":[782,1022],"paddingInner":0,"paddingOuter":0},"axis":null},"y":{"datum":1.469,"type":"quantitative","scale":{"domain":[-0.8,0.8],"range":[337,110],"nice":false,"zero":false},"axis":null},"y2":{"datum":-1.208}}},
{"data":{"values":[{}]},"mark":{"type":"rule","color":"#333","strokeDash":[2,2],"strokeWidth":1,"xOffset":-4.5},"encoding":{"x":{"datum":"A","type":"nominal","bandPosition":0,"scale":{"type":"band","domain":["A","B","C","EDM","EVM"],"range":[1028,1128],"paddingInner":0,"paddingOuter":0},"axis":null},"y":{"datum":0.87,"type":"quantitative","scale":{"domain":[-0.8,0.8],"range":[337,110],"nice":false,"zero":false},"axis":null},"y2":{"datum":-1.046}}}
]
}
